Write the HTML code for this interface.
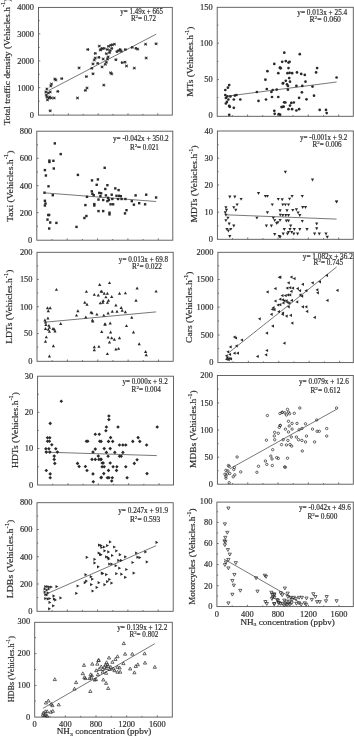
<!DOCTYPE html>
<html><head><meta charset="utf-8"><style>
html,body{margin:0;padding:0;background:#fff;}
body{width:354px;height:737px;overflow:hidden;}
svg{display:block;filter:grayscale(1) blur(0.3px);}
text{font-family:"Liberation Serif", serif;fill:#2a2a2a;stroke:#333;stroke-width:0.18px;}
</style></head><body>
<svg width="354" height="737" viewBox="0 0 354 737">
<rect width="354" height="737" fill="#fff"/>
<g>
<rect x="38.5" y="7.4" width="133.8" height="107.7" fill="none" stroke="#555" stroke-width="0.9"/>
<path d="M38.5 20.65h1.2M38.5 33.9h1.8M38.5 47.4h1.2M38.5 60.9h1.8M38.5 74.3h1.2M38.5 87.7h1.8M38.5 101.2h1.2M53.41 115.1v-1.2M68.33 115.1v-1.8M83.24 115.1v-1.2M98.15 115.1v-1.8M113.06 115.1v-1.2M127.98 115.1v-1.8M142.89 115.1v-1.2M157.8 115.1v-1.8" stroke="#555" stroke-width="0.8" fill="none"/>
<text x="34" y="10.2" text-anchor="end" font-size="8.2" textLength="16.8" lengthAdjust="spacingAndGlyphs">4000</text>
<text x="34" y="36.7" text-anchor="end" font-size="8.2" textLength="16.8" lengthAdjust="spacingAndGlyphs">3000</text>
<text x="34" y="63.7" text-anchor="end" font-size="8.2" textLength="16.8" lengthAdjust="spacingAndGlyphs">2000</text>
<text x="34" y="90.5" text-anchor="end" font-size="8.2" textLength="16.8" lengthAdjust="spacingAndGlyphs">1000</text>
<text x="34" y="117.5" text-anchor="end" font-size="8.2" textLength="4.2" lengthAdjust="spacingAndGlyphs">0</text>
<text transform="translate(9.8 125.3) rotate(-90)" font-size="8" textLength="126.8" lengthAdjust="spacingAndGlyphs">Total traffic density (Vehicles.h<tspan font-size="5.5" dy="-4.4">-1</tspan><tspan dy="4.4">)</tspan></text>
<text x="120.3" y="13.6" font-size="7.2" textLength="42.7" lengthAdjust="spacingAndGlyphs">y= 1.49x + 665</text>
<text x="130.9" y="21.1" font-size="7.2" textLength="25.1" lengthAdjust="spacingAndGlyphs">R<tspan font-size="5" dy="-3">2</tspan><tspan dy="3">= 0.72</tspan></text>
<line x1="48.9" y1="90.4" x2="156.1" y2="34.2" stroke="#555" stroke-width="0.8"/>
<path d="M48.7 110.8H51.7M49.3 109.45L51.1 112.15M51.1 109.45L49.3 112.15" stroke="#2a2a2a" stroke-width="0.95" fill="none"/>
<path d="M45.4 89H48.4M46 87.65L47.8 90.35M47.8 87.65L46 90.35" stroke="#2a2a2a" stroke-width="0.95" fill="none"/>
<path d="M44.4 92H47.4M45 90.65L46.8 93.35M46.8 90.65L45 93.35" stroke="#2a2a2a" stroke-width="0.95" fill="none"/>
<path d="M44.8 95H47.8M45.4 93.65L47.2 96.35M47.2 93.65L45.4 96.35" stroke="#2a2a2a" stroke-width="0.95" fill="none"/>
<path d="M45.4 97H48.4M46 95.65L47.8 98.35M47.8 95.65L46 98.35" stroke="#2a2a2a" stroke-width="0.95" fill="none"/>
<path d="M46 99.9H49M46.6 98.55L48.4 101.25M48.4 98.55L46.6 101.25" stroke="#2a2a2a" stroke-width="0.95" fill="none"/>
<path d="M47.4 98H50.4M48 96.65L49.8 99.35M49.8 96.65L48 99.35" stroke="#2a2a2a" stroke-width="0.95" fill="none"/>
<path d="M48.3 97H51.3M48.9 95.65L50.7 98.35M50.7 95.65L48.9 98.35" stroke="#2a2a2a" stroke-width="0.95" fill="none"/>
<path d="M49.9 98H52.9M50.5 96.65L52.3 99.35M52.3 96.65L50.5 99.35" stroke="#2a2a2a" stroke-width="0.95" fill="none"/>
<path d="M52.7 98H55.7M53.3 96.65L55.1 99.35M55.1 96.65L53.3 99.35" stroke="#2a2a2a" stroke-width="0.95" fill="none"/>
<path d="M46.8 93H49.8M47.4 91.65L49.2 94.35M49.2 91.65L47.4 94.35" stroke="#2a2a2a" stroke-width="0.95" fill="none"/>
<path d="M48.7 92H51.7M49.3 90.65L51.1 93.35M51.1 90.65L49.3 93.35" stroke="#2a2a2a" stroke-width="0.95" fill="none"/>
<path d="M49.3 86H52.3M49.9 84.65L51.7 87.35M51.7 84.65L49.9 87.35" stroke="#2a2a2a" stroke-width="0.95" fill="none"/>
<path d="M49.9 84H52.9M50.5 82.65L52.3 85.35M52.3 82.65L50.5 85.35" stroke="#2a2a2a" stroke-width="0.95" fill="none"/>
<path d="M53.3 79H56.3M53.9 77.65L55.7 80.35M55.7 77.65L53.9 80.35" stroke="#2a2a2a" stroke-width="0.95" fill="none"/>
<path d="M54.3 80H57.3M54.9 78.65L56.7 81.35M56.7 78.65L54.9 81.35" stroke="#2a2a2a" stroke-width="0.95" fill="none"/>
<path d="M60.2 78.6H63.2M60.8 77.25L62.6 79.95M62.6 77.25L60.8 79.95" stroke="#2a2a2a" stroke-width="0.95" fill="none"/>
<path d="M56.3 91.4H59.3M56.9 90.05L58.7 92.75M58.7 90.05L56.9 92.75" stroke="#2a2a2a" stroke-width="0.95" fill="none"/>
<path d="M76 98H79M76.6 96.65L78.4 99.35M78.4 96.65L76.6 99.35" stroke="#2a2a2a" stroke-width="0.95" fill="none"/>
<path d="M77.6 67.9H80.6M78.2 66.55L80 69.25M80 66.55L78.2 69.25" stroke="#2a2a2a" stroke-width="0.95" fill="none"/>
<path d="M83.9 90.4H86.9M84.5 89.05L86.3 91.75M86.3 89.05L84.5 91.75" stroke="#2a2a2a" stroke-width="0.95" fill="none"/>
<path d="M85.5 88H88.5M86.1 86.65L87.9 89.35M87.9 86.65L86.1 89.35" stroke="#2a2a2a" stroke-width="0.95" fill="none"/>
<path d="M84.9 76.6H87.9M85.5 75.25L87.3 77.95M87.3 75.25L85.5 77.95" stroke="#2a2a2a" stroke-width="0.95" fill="none"/>
<path d="M86.3 49.5H89.3M86.9 48.15L88.7 50.85M88.7 48.15L86.9 50.85" stroke="#2a2a2a" stroke-width="0.95" fill="none"/>
<path d="M90.3 68.3H93.3M90.9 66.95L92.7 69.65M92.7 66.95L90.9 69.65" stroke="#2a2a2a" stroke-width="0.95" fill="none"/>
<path d="M91.5 73.8H94.5M92.1 72.45L93.9 75.15M93.9 72.45L92.1 75.15" stroke="#2a2a2a" stroke-width="0.95" fill="none"/>
<path d="M91.5 63.9H94.5M92.1 62.55L93.9 65.25M93.9 62.55L92.1 65.25" stroke="#2a2a2a" stroke-width="0.95" fill="none"/>
<path d="M92.8 60H95.8M93.4 58.65L95.2 61.35M95.2 58.65L93.4 61.35" stroke="#2a2a2a" stroke-width="0.95" fill="none"/>
<path d="M93.8 53.4H96.8M94.4 52.05L96.2 54.75M96.2 52.05L94.4 54.75" stroke="#2a2a2a" stroke-width="0.95" fill="none"/>
<path d="M93.8 58H96.8M94.4 56.65L96.2 59.35M96.2 56.65L94.4 59.35" stroke="#2a2a2a" stroke-width="0.95" fill="none"/>
<path d="M96.2 63.3H99.2M96.8 61.95L98.6 64.65M98.6 61.95L96.8 64.65" stroke="#2a2a2a" stroke-width="0.95" fill="none"/>
<path d="M97.4 57.4H100.4M98 56.05L99.8 58.75M99.8 56.05L98 58.75" stroke="#2a2a2a" stroke-width="0.95" fill="none"/>
<path d="M97.8 46.1H100.8M98.4 44.75L100.2 47.45M100.2 44.75L98.4 47.45" stroke="#2a2a2a" stroke-width="0.95" fill="none"/>
<path d="M102.3 85.1H105.3M102.9 83.75L104.7 86.45M104.7 83.75L102.9 86.45" stroke="#2a2a2a" stroke-width="0.95" fill="none"/>
<path d="M100.6 66.9H103.6M101.2 65.55L103 68.25M103 65.55L101.2 68.25" stroke="#2a2a2a" stroke-width="0.95" fill="none"/>
<path d="M103.8 64.3H106.8M104.4 62.95L106.2 65.65M106.2 62.95L104.4 65.65" stroke="#2a2a2a" stroke-width="0.95" fill="none"/>
<path d="M104.9 62.2H107.9M105.5 60.85L107.3 63.55M107.3 60.85L105.5 63.55" stroke="#2a2a2a" stroke-width="0.95" fill="none"/>
<path d="M105.9 59H108.9M106.5 57.65L108.3 60.35M108.3 57.65L106.5 60.35" stroke="#2a2a2a" stroke-width="0.95" fill="none"/>
<path d="M106.6 56.9H109.6M107.2 55.55L109 58.25M109 55.55L107.2 58.25" stroke="#2a2a2a" stroke-width="0.95" fill="none"/>
<path d="M101.7 59H104.7M102.3 57.65L104.1 60.35M104.1 57.65L102.3 60.35" stroke="#2a2a2a" stroke-width="0.95" fill="none"/>
<path d="M104.9 53.7H107.9M105.5 52.35L107.3 55.05M107.3 52.35L105.5 55.05" stroke="#2a2a2a" stroke-width="0.95" fill="none"/>
<path d="M108 52.7H111M108.6 51.35L110.4 54.05M110.4 51.35L108.6 54.05" stroke="#2a2a2a" stroke-width="0.95" fill="none"/>
<path d="M99.5 49.5H102.5M100.1 48.15L101.9 50.85M101.9 48.15L100.1 50.85" stroke="#2a2a2a" stroke-width="0.95" fill="none"/>
<path d="M102.7 48.4H105.7M103.3 47.05L105.1 49.75M105.1 47.05L103.3 49.75" stroke="#2a2a2a" stroke-width="0.95" fill="none"/>
<path d="M105.9 49.5H108.9M106.5 48.15L108.3 50.85M108.3 48.15L106.5 50.85" stroke="#2a2a2a" stroke-width="0.95" fill="none"/>
<path d="M107 46.3H110M107.6 44.95L109.4 47.65M109.4 44.95L107.6 47.65" stroke="#2a2a2a" stroke-width="0.95" fill="none"/>
<path d="M109.1 45.3H112.1M109.7 43.95L111.5 46.65M111.5 43.95L109.7 46.65" stroke="#2a2a2a" stroke-width="0.95" fill="none"/>
<path d="M110.8 44.8H113.8M111.4 43.45L113.2 46.15M113.2 43.45L111.4 46.15" stroke="#2a2a2a" stroke-width="0.95" fill="none"/>
<path d="M112.9 44.2H115.9M113.5 42.85L115.3 45.55M115.3 42.85L113.5 45.55" stroke="#2a2a2a" stroke-width="0.95" fill="none"/>
<path d="M108.7 50.6H111.7M109.3 49.25L111.1 51.95M111.1 49.25L109.3 51.95" stroke="#2a2a2a" stroke-width="0.95" fill="none"/>
<path d="M110.2 48.4H113.2M110.8 47.05L112.6 49.75M112.6 47.05L110.8 49.75" stroke="#2a2a2a" stroke-width="0.95" fill="none"/>
<path d="M109.1 72.8H112.1M109.7 71.45L111.5 74.15M111.5 71.45L109.7 74.15" stroke="#2a2a2a" stroke-width="0.95" fill="none"/>
<path d="M110.2 73.9H113.2M110.8 72.55L112.6 75.25M112.6 72.55L110.8 75.25" stroke="#2a2a2a" stroke-width="0.95" fill="none"/>
<path d="M114.4 59.7H117.4M115 58.35L116.8 61.05M116.8 58.35L115 61.05" stroke="#2a2a2a" stroke-width="0.95" fill="none"/>
<path d="M115.5 51.6H118.5M116.1 50.25L117.9 52.95M117.9 50.25L116.1 52.95" stroke="#2a2a2a" stroke-width="0.95" fill="none"/>
<path d="M117.1 50.6H120.1M117.7 49.25L119.5 51.95M119.5 49.25L117.7 51.95" stroke="#2a2a2a" stroke-width="0.95" fill="none"/>
<path d="M118.6 49.5H121.6M119.2 48.15L121 50.85M121 48.15L119.2 50.85" stroke="#2a2a2a" stroke-width="0.95" fill="none"/>
<path d="M119.7 51.2H122.7M120.3 49.85L122.1 52.55M122.1 49.85L120.3 52.55" stroke="#2a2a2a" stroke-width="0.95" fill="none"/>
<path d="M120.7 62.6H123.7M121.3 61.25L123.1 63.95M123.1 61.25L121.3 63.95" stroke="#2a2a2a" stroke-width="0.95" fill="none"/>
<path d="M123.5 62.2H126.5M124.1 60.85L125.9 63.55M125.9 60.85L124.1 63.55" stroke="#2a2a2a" stroke-width="0.95" fill="none"/>
<path d="M125 66H128M125.6 64.65L127.4 67.35M127.4 64.65L125.6 67.35" stroke="#2a2a2a" stroke-width="0.95" fill="none"/>
<path d="M123.9 49.5H126.9M124.5 48.15L126.3 50.85M126.3 48.15L124.5 50.85" stroke="#2a2a2a" stroke-width="0.95" fill="none"/>
<path d="M130.7 47.4H133.7M131.3 46.05L133.1 48.75M133.1 46.05L131.3 48.75" stroke="#2a2a2a" stroke-width="0.95" fill="none"/>
<path d="M132.8 68.1H135.8M133.4 66.75L135.2 69.45M135.2 66.75L133.4 69.45" stroke="#2a2a2a" stroke-width="0.95" fill="none"/>
<path d="M134.5 48.4H137.5M135.1 47.05L136.9 49.75M136.9 47.05L135.1 49.75" stroke="#2a2a2a" stroke-width="0.95" fill="none"/>
<path d="M136.2 49.1H139.2M136.8 47.75L138.6 50.45M138.6 47.75L136.8 50.45" stroke="#2a2a2a" stroke-width="0.95" fill="none"/>
<path d="M144.1 44.2H147.1M144.7 42.85L146.5 45.55M146.5 42.85L144.7 45.55" stroke="#2a2a2a" stroke-width="0.95" fill="none"/>
<path d="M144.7 58H147.7M145.3 56.65L147.1 59.35M147.1 56.65L145.3 59.35" stroke="#2a2a2a" stroke-width="0.95" fill="none"/>
<path d="M154.6 43.8H157.6M155.2 42.45L157 45.15M157 42.45L155.2 45.15" stroke="#2a2a2a" stroke-width="0.95" fill="none"/>
<path d="M98.8 50H101.8M99.4 48.65L101.2 51.35M101.2 48.65L99.4 51.35" stroke="#2a2a2a" stroke-width="0.95" fill="none"/>
<path d="M100.7 48.5H103.7M101.3 47.15L103.1 49.85M103.1 47.15L101.3 49.85" stroke="#2a2a2a" stroke-width="0.95" fill="none"/>
<rect x="36.8" y="131.2" width="136" height="109" fill="none" stroke="#555" stroke-width="0.9"/>
<path d="M36.8 144.75h1.2M36.8 158.3h1.8M36.8 172h1.2M36.8 185.7h1.8M36.8 199.2h1.2M36.8 212.7h1.8M36.8 226.25h1.2M51.99 240.2v-1.2M67.17 240.2v-1.8M82.36 240.2v-1.2M97.55 240.2v-1.8M112.74 240.2v-1.2M127.93 240.2v-1.8M143.11 240.2v-1.2M158.3 240.2v-1.8" stroke="#555" stroke-width="0.8" fill="none"/>
<text x="32.3" y="134" text-anchor="end" font-size="8.2" textLength="12.6" lengthAdjust="spacingAndGlyphs">800</text>
<text x="32.3" y="161.1" text-anchor="end" font-size="8.2" textLength="12.6" lengthAdjust="spacingAndGlyphs">600</text>
<text x="32.3" y="188.5" text-anchor="end" font-size="8.2" textLength="12.6" lengthAdjust="spacingAndGlyphs">400</text>
<text x="32.3" y="215.5" text-anchor="end" font-size="8.2" textLength="12.6" lengthAdjust="spacingAndGlyphs">200</text>
<text x="32.3" y="242.6" text-anchor="end" font-size="8.2" textLength="4.2" lengthAdjust="spacingAndGlyphs">0</text>
<text transform="translate(12.6 221.9) rotate(-90)" font-size="8" textLength="71.3" lengthAdjust="spacingAndGlyphs">Taxi (Vehicles.h<tspan font-size="5.5" dy="-4.4">-1</tspan><tspan dy="4.4">)</tspan></text>
<text x="112.9" y="141.2" font-size="7.2" textLength="55.8" lengthAdjust="spacingAndGlyphs">y= -0.042x + 350.2</text>
<text x="129.9" y="150.3" font-size="7.2" textLength="28.9" lengthAdjust="spacingAndGlyphs">R<tspan font-size="5" dy="-3">2</tspan><tspan dy="3">= 0.021</tspan></text>
<line x1="44.9" y1="192.9" x2="156.1" y2="201.5" stroke="#555" stroke-width="0.8"/>
<rect x="53.6" y="142.2" width="2.4" height="2.4" fill="#2a2a2a"/>
<rect x="59.5" y="152.9" width="2.4" height="2.4" fill="#2a2a2a"/>
<rect x="48.2" y="159.4" width="2.4" height="2.4" fill="#2a2a2a"/>
<rect x="48.2" y="160.8" width="2.4" height="2.4" fill="#2a2a2a"/>
<rect x="52.2" y="159.6" width="2.4" height="2.4" fill="#2a2a2a"/>
<rect x="52.6" y="167.3" width="2.4" height="2.4" fill="#2a2a2a"/>
<rect x="43.7" y="168.9" width="2.4" height="2.4" fill="#2a2a2a"/>
<rect x="44.7" y="174.3" width="2.4" height="2.4" fill="#2a2a2a"/>
<rect x="47.3" y="185.1" width="2.4" height="2.4" fill="#2a2a2a"/>
<rect x="43.3" y="191.5" width="2.4" height="2.4" fill="#2a2a2a"/>
<rect x="51.6" y="194" width="2.4" height="2.4" fill="#2a2a2a"/>
<rect x="43.7" y="199.6" width="2.4" height="2.4" fill="#2a2a2a"/>
<rect x="44.3" y="202.3" width="2.4" height="2.4" fill="#2a2a2a"/>
<rect x="43.7" y="204.3" width="2.4" height="2.4" fill="#2a2a2a"/>
<rect x="47.1" y="213.8" width="2.4" height="2.4" fill="#2a2a2a"/>
<rect x="47.9" y="213.8" width="2.4" height="2.4" fill="#2a2a2a"/>
<rect x="46.3" y="218.4" width="2.4" height="2.4" fill="#2a2a2a"/>
<rect x="49" y="221.3" width="2.4" height="2.4" fill="#2a2a2a"/>
<rect x="55.2" y="221.7" width="2.4" height="2.4" fill="#2a2a2a"/>
<rect x="48" y="227.3" width="2.4" height="2.4" fill="#2a2a2a"/>
<rect x="75.3" y="225.7" width="2.4" height="2.4" fill="#2a2a2a"/>
<rect x="76.7" y="173.7" width="2.4" height="2.4" fill="#2a2a2a"/>
<rect x="84.2" y="203.9" width="2.4" height="2.4" fill="#2a2a2a"/>
<rect x="85.2" y="214.8" width="2.4" height="2.4" fill="#2a2a2a"/>
<rect x="83.2" y="216.8" width="2.4" height="2.4" fill="#2a2a2a"/>
<rect x="85.8" y="195.6" width="2.4" height="2.4" fill="#2a2a2a"/>
<rect x="90.8" y="179.2" width="2.4" height="2.4" fill="#2a2a2a"/>
<rect x="90.6" y="190.1" width="2.4" height="2.4" fill="#2a2a2a"/>
<rect x="91.2" y="192.6" width="2.4" height="2.4" fill="#2a2a2a"/>
<rect x="92.5" y="194" width="2.4" height="2.4" fill="#2a2a2a"/>
<rect x="93.1" y="202.9" width="2.4" height="2.4" fill="#2a2a2a"/>
<rect x="93.1" y="204.3" width="2.4" height="2.4" fill="#2a2a2a"/>
<rect x="95.5" y="183.6" width="2.4" height="2.4" fill="#2a2a2a"/>
<rect x="96.7" y="178.2" width="2.4" height="2.4" fill="#2a2a2a"/>
<rect x="98.1" y="191.7" width="2.4" height="2.4" fill="#2a2a2a"/>
<rect x="97.3" y="198.4" width="2.4" height="2.4" fill="#2a2a2a"/>
<rect x="97.3" y="209.9" width="2.4" height="2.4" fill="#2a2a2a"/>
<rect x="103.5" y="166.6" width="2.4" height="2.4" fill="#2a2a2a"/>
<rect x="106.2" y="184" width="2.4" height="2.4" fill="#2a2a2a"/>
<rect x="104.1" y="187.8" width="2.4" height="2.4" fill="#2a2a2a"/>
<rect x="99.9" y="192.1" width="2.4" height="2.4" fill="#2a2a2a"/>
<rect x="99.2" y="195" width="2.4" height="2.4" fill="#2a2a2a"/>
<rect x="102" y="198.8" width="2.4" height="2.4" fill="#2a2a2a"/>
<rect x="104.7" y="194.2" width="2.4" height="2.4" fill="#2a2a2a"/>
<rect x="106.9" y="196.7" width="2.4" height="2.4" fill="#2a2a2a"/>
<rect x="107.7" y="198.8" width="2.4" height="2.4" fill="#2a2a2a"/>
<rect x="106.2" y="199.9" width="2.4" height="2.4" fill="#2a2a2a"/>
<rect x="110.5" y="193.5" width="2.4" height="2.4" fill="#2a2a2a"/>
<rect x="111.1" y="197.8" width="2.4" height="2.4" fill="#2a2a2a"/>
<rect x="109.4" y="203.1" width="2.4" height="2.4" fill="#2a2a2a"/>
<rect x="111.9" y="203.1" width="2.4" height="2.4" fill="#2a2a2a"/>
<rect x="114.1" y="187.2" width="2.4" height="2.4" fill="#2a2a2a"/>
<rect x="115.3" y="194.6" width="2.4" height="2.4" fill="#2a2a2a"/>
<rect x="117.4" y="188.9" width="2.4" height="2.4" fill="#2a2a2a"/>
<rect x="117.9" y="194.6" width="2.4" height="2.4" fill="#2a2a2a"/>
<rect x="119.6" y="195" width="2.4" height="2.4" fill="#2a2a2a"/>
<rect x="116.8" y="197.8" width="2.4" height="2.4" fill="#2a2a2a"/>
<rect x="120.4" y="197.8" width="2.4" height="2.4" fill="#2a2a2a"/>
<rect x="124.2" y="197.8" width="2.4" height="2.4" fill="#2a2a2a"/>
<rect x="102" y="209.9" width="2.4" height="2.4" fill="#2a2a2a"/>
<rect x="108.3" y="211.5" width="2.4" height="2.4" fill="#2a2a2a"/>
<rect x="108.3" y="213.2" width="2.4" height="2.4" fill="#2a2a2a"/>
<rect x="123.8" y="212.2" width="2.4" height="2.4" fill="#2a2a2a"/>
<rect x="125.3" y="209" width="2.4" height="2.4" fill="#2a2a2a"/>
<rect x="130.6" y="199.9" width="2.4" height="2.4" fill="#2a2a2a"/>
<rect x="132.7" y="203.5" width="2.4" height="2.4" fill="#2a2a2a"/>
<rect x="134.4" y="194.2" width="2.4" height="2.4" fill="#2a2a2a"/>
<rect x="138" y="202" width="2.4" height="2.4" fill="#2a2a2a"/>
<rect x="143.9" y="203.1" width="2.4" height="2.4" fill="#2a2a2a"/>
<rect x="145" y="193.5" width="2.4" height="2.4" fill="#2a2a2a"/>
<rect x="154.9" y="196.3" width="2.4" height="2.4" fill="#2a2a2a"/>
<rect x="37" y="252.3" width="136.2" height="109" fill="none" stroke="#555" stroke-width="0.9"/>
<path d="M37 265.9h1.2M37 279.4h1.8M37 293.05h1.2M37 306.7h1.8M37 320.15h1.2M37 333.6h1.8M37 347.15h1.2M52.19 361.3v-1.2M67.38 361.3v-1.8M82.56 361.3v-1.2M97.75 361.3v-1.8M112.94 361.3v-1.2M128.12 361.3v-1.8M143.31 361.3v-1.2M158.5 361.3v-1.8" stroke="#555" stroke-width="0.8" fill="none"/>
<text x="32.5" y="255.2" text-anchor="end" font-size="8.2" textLength="12.6" lengthAdjust="spacingAndGlyphs">200</text>
<text x="32.5" y="282.2" text-anchor="end" font-size="8.2" textLength="12.6" lengthAdjust="spacingAndGlyphs">150</text>
<text x="32.5" y="309.5" text-anchor="end" font-size="8.2" textLength="12.6" lengthAdjust="spacingAndGlyphs">100</text>
<text x="32.5" y="336.4" text-anchor="end" font-size="8.2" textLength="8.4" lengthAdjust="spacingAndGlyphs">50</text>
<text x="32.5" y="363.5" text-anchor="end" font-size="8.2" textLength="4.2" lengthAdjust="spacingAndGlyphs">0</text>
<text transform="translate(12.4 343.8) rotate(-90)" font-size="8" textLength="74.1" lengthAdjust="spacingAndGlyphs">LDTs (Vehicles.h<tspan font-size="5.5" dy="-4.4">-1</tspan><tspan dy="4.4">)</tspan></text>
<text x="118.8" y="261.6" font-size="7.2" textLength="49.3" lengthAdjust="spacingAndGlyphs">y= 0.013x + 69.8</text>
<text x="132" y="269.1" font-size="7.2" textLength="29.8" lengthAdjust="spacingAndGlyphs">R<tspan font-size="5" dy="-3">2</tspan><tspan dy="3">= 0.022</tspan></text>
<line x1="44.9" y1="322.2" x2="156.1" y2="311.9" stroke="#555" stroke-width="0.8"/>
<path d="M56.4 287.9L58 290.78L54.8 290.78Z" fill="#2a2a2a"/>
<path d="M47.5 306.3L49.1 309.18L45.9 309.18Z" fill="#2a2a2a"/>
<path d="M50.2 306.3L51.8 309.18L48.6 309.18Z" fill="#2a2a2a"/>
<path d="M48.3 309.3L49.9 312.18L46.7 312.18Z" fill="#2a2a2a"/>
<path d="M47.9 316.6L49.5 319.48L46.3 319.48Z" fill="#2a2a2a"/>
<path d="M44.9 318.6L46.5 321.48L43.3 321.48Z" fill="#2a2a2a"/>
<path d="M45.5 320.6L47.1 323.48L43.9 323.48Z" fill="#2a2a2a"/>
<path d="M45.9 323.1L47.5 325.98L44.3 325.98Z" fill="#2a2a2a"/>
<path d="M48.9 323.9L50.5 326.78L47.3 326.78Z" fill="#2a2a2a"/>
<path d="M49.4 325.9L51 328.78L47.8 328.78Z" fill="#2a2a2a"/>
<path d="M45.5 327.1L47.1 329.98L43.9 329.98Z" fill="#2a2a2a"/>
<path d="M48.3 327.9L49.9 330.78L46.7 330.78Z" fill="#2a2a2a"/>
<path d="M53 327.1L54.6 329.98L51.4 329.98Z" fill="#2a2a2a"/>
<path d="M54.2 327.5L55.8 330.38L52.6 330.38Z" fill="#2a2a2a"/>
<path d="M55 329.5L56.6 332.38L53.4 332.38Z" fill="#2a2a2a"/>
<path d="M49.4 329.9L51 332.78L47.8 332.78Z" fill="#2a2a2a"/>
<path d="M60.7 322L62.3 324.88L59.1 324.88Z" fill="#2a2a2a"/>
<path d="M46.3 335.4L47.9 338.28L44.7 338.28Z" fill="#2a2a2a"/>
<path d="M45.5 339.8L47.1 342.68L43.9 342.68Z" fill="#2a2a2a"/>
<path d="M53.4 344.3L55 347.18L51.8 347.18Z" fill="#2a2a2a"/>
<path d="M49.4 354.6L51 357.48L47.8 357.48Z" fill="#2a2a2a"/>
<path d="M77.9 309.3L79.5 312.18L76.3 312.18Z" fill="#2a2a2a"/>
<path d="M76.5 313.7L78.1 316.58L74.9 316.58Z" fill="#2a2a2a"/>
<path d="M86.4 289.9L88 292.78L84.8 292.78Z" fill="#2a2a2a"/>
<path d="M84.8 300.8L86.4 303.68L83.2 303.68Z" fill="#2a2a2a"/>
<path d="M87 302.8L88.6 305.68L85.4 305.68Z" fill="#2a2a2a"/>
<path d="M85.8 315.6L87.4 318.48L84.2 318.48Z" fill="#2a2a2a"/>
<path d="M91 310.7L92.6 313.58L89.4 313.58Z" fill="#2a2a2a"/>
<path d="M92 311.3L93.6 314.18L90.4 314.18Z" fill="#2a2a2a"/>
<path d="M92.4 318.6L94 321.48L90.8 321.48Z" fill="#2a2a2a"/>
<path d="M92.8 319.6L94.4 322.48L91.2 322.48Z" fill="#2a2a2a"/>
<path d="M94.3 292.9L95.9 295.78L92.7 295.78Z" fill="#2a2a2a"/>
<path d="M94.3 345.3L95.9 348.18L92.7 348.18Z" fill="#2a2a2a"/>
<path d="M94.3 348.3L95.9 351.18L92.7 351.18Z" fill="#2a2a2a"/>
<path d="M96.9 312.7L98.5 315.58L95.3 315.58Z" fill="#2a2a2a"/>
<path d="M98.3 293.5L99.9 296.38L96.7 296.38Z" fill="#2a2a2a"/>
<path d="M98.9 344.9L100.5 347.78L97.3 347.78Z" fill="#2a2a2a"/>
<path d="M99.7 283L101.3 285.88L98.1 285.88Z" fill="#2a2a2a"/>
<path d="M109.5 281.2L111.1 284.08L107.9 284.08Z" fill="#2a2a2a"/>
<path d="M101.1 289.7L102.7 292.58L99.5 292.58Z" fill="#2a2a2a"/>
<path d="M104.2 291.8L105.8 294.68L102.6 294.68Z" fill="#2a2a2a"/>
<path d="M107.4 291.8L109 294.68L105.8 294.68Z" fill="#2a2a2a"/>
<path d="M105.9 295.4L107.5 298.28L104.3 298.28Z" fill="#2a2a2a"/>
<path d="M111.7 295L113.3 297.88L110.1 297.88Z" fill="#2a2a2a"/>
<path d="M108.5 298.8L110.1 301.68L106.9 301.68Z" fill="#2a2a2a"/>
<path d="M107.4 300.9L109 303.78L105.8 303.78Z" fill="#2a2a2a"/>
<path d="M103.2 299.2L104.8 302.08L101.6 302.08Z" fill="#2a2a2a"/>
<path d="M119.5 291.8L121.1 294.68L117.9 294.68Z" fill="#2a2a2a"/>
<path d="M125.4 291.4L127 294.28L123.8 294.28Z" fill="#2a2a2a"/>
<path d="M137.1 286.5L138.7 289.38L135.5 289.38Z" fill="#2a2a2a"/>
<path d="M156.1 289.7L157.7 292.58L154.5 292.58Z" fill="#2a2a2a"/>
<path d="M136 298.8L137.6 301.68L134.4 301.68Z" fill="#2a2a2a"/>
<path d="M115.9 303.5L117.5 306.38L114.3 306.38Z" fill="#2a2a2a"/>
<path d="M121.2 306L122.8 308.88L119.6 308.88Z" fill="#2a2a2a"/>
<path d="M122.2 308.8L123.8 311.68L120.6 311.68Z" fill="#2a2a2a"/>
<path d="M117 309.8L118.6 312.68L115.4 312.68Z" fill="#2a2a2a"/>
<path d="M112.3 309.8L113.9 312.68L110.7 312.68Z" fill="#2a2a2a"/>
<path d="M108.1 311.5L109.7 314.38L106.5 314.38Z" fill="#2a2a2a"/>
<path d="M103.8 313.7L105.4 316.58L102.2 316.58Z" fill="#2a2a2a"/>
<path d="M125.4 310.3L127 313.18L123.8 313.18Z" fill="#2a2a2a"/>
<path d="M131.8 315.8L133.4 318.68L130.2 318.68Z" fill="#2a2a2a"/>
<path d="M110.2 321.5L111.8 324.38L108.6 324.38Z" fill="#2a2a2a"/>
<path d="M105.3 322.6L106.9 325.48L103.7 325.48Z" fill="#2a2a2a"/>
<path d="M126.5 324.2L128.1 327.08L124.9 327.08Z" fill="#2a2a2a"/>
<path d="M101.7 330L103.3 332.88L100.1 332.88Z" fill="#2a2a2a"/>
<path d="M110.6 330.6L112.2 333.48L109 333.48Z" fill="#2a2a2a"/>
<path d="M133.5 330.6L135.1 333.48L131.9 333.48Z" fill="#2a2a2a"/>
<path d="M108.1 335.7L109.7 338.58L106.5 338.58Z" fill="#2a2a2a"/>
<path d="M111.7 336.3L113.3 339.18L110.1 339.18Z" fill="#2a2a2a"/>
<path d="M114.4 337.8L116 340.68L112.8 340.68Z" fill="#2a2a2a"/>
<path d="M119.5 336.3L121.1 339.18L117.9 339.18Z" fill="#2a2a2a"/>
<path d="M109.5 340.6L111.1 343.48L107.9 343.48Z" fill="#2a2a2a"/>
<path d="M139.2 342.3L140.8 345.18L137.6 345.18Z" fill="#2a2a2a"/>
<path d="M115.9 347.6L117.5 350.48L114.3 350.48Z" fill="#2a2a2a"/>
<path d="M118.6 346.9L120.2 349.78L117 349.78Z" fill="#2a2a2a"/>
<path d="M107.4 352.2L109 355.08L105.8 355.08Z" fill="#2a2a2a"/>
<path d="M145.6 350.1L147.2 352.98L144 352.98Z" fill="#2a2a2a"/>
<path d="M146.2 353.3L147.8 356.18L144.6 356.18Z" fill="#2a2a2a"/>
<path d="M101.8 289.9L103.4 292.78L100.2 292.78Z" fill="#2a2a2a"/>
<path d="M100.3 301.4L101.9 304.28L98.7 304.28Z" fill="#2a2a2a"/>
<path d="M102.8 300.8L104.4 303.68L101.2 303.68Z" fill="#2a2a2a"/>
<path d="M104.8 322.6L106.4 325.48L103.2 325.48Z" fill="#2a2a2a"/>
<rect x="37.6" y="376.2" width="135.9" height="108.8" fill="none" stroke="#555" stroke-width="0.9"/>
<path d="M37.6 394.25h1.2M37.6 412.3h1.8M37.6 430.4h1.2M37.6 448.5h1.8M37.6 466.75h1.2M52.78 485v-1.2M67.95 485v-1.8M83.12 485v-1.2M98.3 485v-1.8M113.47 485v-1.2M128.65 485v-1.8M143.83 485v-1.2M159 485v-1.8" stroke="#555" stroke-width="0.8" fill="none"/>
<text x="33.1" y="379" text-anchor="end" font-size="8.2" textLength="8.4" lengthAdjust="spacingAndGlyphs">30</text>
<text x="33.1" y="415.1" text-anchor="end" font-size="8.2" textLength="8.4" lengthAdjust="spacingAndGlyphs">20</text>
<text x="33.1" y="451.3" text-anchor="end" font-size="8.2" textLength="8.4" lengthAdjust="spacingAndGlyphs">10</text>
<text x="33.1" y="487.8" text-anchor="end" font-size="8.2" textLength="4.2" lengthAdjust="spacingAndGlyphs">0</text>
<text transform="translate(17.8 467.9) rotate(-90)" font-size="8" textLength="75.9" lengthAdjust="spacingAndGlyphs">HDTs (Vehicles.h<tspan font-size="5.5" dy="-4.4">-1</tspan><tspan dy="4.4">)</tspan></text>
<text x="122.4" y="384.3" font-size="7.2" textLength="45.3" lengthAdjust="spacingAndGlyphs">y= 0.000x + 9.2</text>
<text x="131.6" y="392.2" font-size="7.2" textLength="29.3" lengthAdjust="spacingAndGlyphs">R<tspan font-size="5" dy="-3">2</tspan><tspan dy="3">= 0.004</tspan></text>
<line x1="44.9" y1="452.1" x2="156.8" y2="455.6" stroke="#555" stroke-width="0.8"/>
<path d="M61.3 399.5L63.1 401.3L61.3 403.1L59.5 401.3Z" fill="#2a2a2a"/>
<path d="M50.2 421.6L52 423.4L50.2 425.2L48.4 423.4Z" fill="#2a2a2a"/>
<path d="M47.5 435.9L49.3 437.7L47.5 439.5L45.7 437.7Z" fill="#2a2a2a"/>
<path d="M49.8 435.9L51.6 437.7L49.8 439.5L48 437.7Z" fill="#2a2a2a"/>
<path d="M47.5 439.4L49.3 441.2L47.5 443L45.7 441.2Z" fill="#2a2a2a"/>
<path d="M49.4 439.4L51.2 441.2L49.4 443L47.6 441.2Z" fill="#2a2a2a"/>
<path d="M51.8 443L53.6 444.8L51.8 446.6L50 444.8Z" fill="#2a2a2a"/>
<path d="M45.9 446.9L47.7 448.7L45.9 450.5L44.1 448.7Z" fill="#2a2a2a"/>
<path d="M48.9 446.9L50.7 448.7L48.9 450.5L47.1 448.7Z" fill="#2a2a2a"/>
<path d="M55.8 446.9L57.6 448.7L55.8 450.5L54 448.7Z" fill="#2a2a2a"/>
<path d="M46.3 450.3L48.1 452.1L46.3 453.9L44.5 452.1Z" fill="#2a2a2a"/>
<path d="M49.8 450.3L51.6 452.1L49.8 453.9L48 452.1Z" fill="#2a2a2a"/>
<path d="M54.2 454.3L56 456.1L54.2 457.9L52.4 456.1Z" fill="#2a2a2a"/>
<path d="M57.4 450.3L59.2 452.1L57.4 453.9L55.6 452.1Z" fill="#2a2a2a"/>
<path d="M54.2 457.6L56 459.4L54.2 461.2L52.4 459.4Z" fill="#2a2a2a"/>
<path d="M54.8 461.6L56.6 463.4L54.8 465.2L53 463.4Z" fill="#2a2a2a"/>
<path d="M46.3 468.7L48.1 470.5L46.3 472.3L44.5 470.5Z" fill="#2a2a2a"/>
<path d="M50.2 472.1L52 473.9L50.2 475.7L48.4 473.9Z" fill="#2a2a2a"/>
<path d="M50.2 476L52 477.8L50.2 479.6L48.4 477.8Z" fill="#2a2a2a"/>
<path d="M77.5 461.6L79.3 463.4L77.5 465.2L75.7 463.4Z" fill="#2a2a2a"/>
<path d="M79.1 464.7L80.9 466.5L79.1 468.3L77.3 466.5Z" fill="#2a2a2a"/>
<path d="M85.4 464.7L87.2 466.5L85.4 468.3L83.6 466.5Z" fill="#2a2a2a"/>
<path d="M87 468.7L88.8 470.5L87 472.3L85.2 470.5Z" fill="#2a2a2a"/>
<path d="M86.4 439.4L88.2 441.2L86.4 443L84.6 441.2Z" fill="#2a2a2a"/>
<path d="M87.8 439.4L89.6 441.2L87.8 443L86 441.2Z" fill="#2a2a2a"/>
<path d="M95.3 432.5L97.1 434.3L95.3 436.1L93.5 434.3Z" fill="#2a2a2a"/>
<path d="M99.3 432.5L101.1 434.3L99.3 436.1L97.5 434.3Z" fill="#2a2a2a"/>
<path d="M99.7 439.4L101.5 441.2L99.7 443L97.9 441.2Z" fill="#2a2a2a"/>
<path d="M95.3 447.3L97.1 449.1L95.3 450.9L93.5 449.1Z" fill="#2a2a2a"/>
<path d="M93 450.3L94.8 452.1L93 453.9L91.2 452.1Z" fill="#2a2a2a"/>
<path d="M92 457.6L93.8 459.4L92 461.2L90.2 459.4Z" fill="#2a2a2a"/>
<path d="M95.3 457.6L97.1 459.4L95.3 461.2L93.5 459.4Z" fill="#2a2a2a"/>
<path d="M98.3 454.3L100.1 456.1L98.3 457.9L96.5 456.1Z" fill="#2a2a2a"/>
<path d="M98.9 457.6L100.7 459.4L98.9 461.2L97.1 459.4Z" fill="#2a2a2a"/>
<path d="M100.9 457.6L102.7 459.4L100.9 461.2L99.1 459.4Z" fill="#2a2a2a"/>
<path d="M93 472.1L94.8 473.9L93 475.7L91.2 473.9Z" fill="#2a2a2a"/>
<path d="M93.3 480L95.1 481.8L93.3 483.6L91.5 481.8Z" fill="#2a2a2a"/>
<path d="M102.2 461.2L104 463L102.2 464.8L100.4 463Z" fill="#2a2a2a"/>
<path d="M101.3 475.4L103.1 477.2L101.3 479L99.5 477.2Z" fill="#2a2a2a"/>
<path d="M108.9 414.2L110.7 416L108.9 417.8L107.1 416Z" fill="#2a2a2a"/>
<path d="M108.9 417.8L110.7 419.6L108.9 421.4L107.1 419.6Z" fill="#2a2a2a"/>
<path d="M106.4 425.2L108.2 427L106.4 428.8L104.6 427Z" fill="#2a2a2a"/>
<path d="M105.9 429L107.7 430.8L105.9 432.6L104.1 430.8Z" fill="#2a2a2a"/>
<path d="M118 425.2L119.8 427L118 428.8L116.2 427Z" fill="#2a2a2a"/>
<path d="M157.2 425.2L159 427L157.2 428.8L155.4 427Z" fill="#2a2a2a"/>
<path d="M110.6 435.8L112.4 437.6L110.6 439.4L108.8 437.6Z" fill="#2a2a2a"/>
<path d="M108.5 439.6L110.3 441.4L108.5 443.2L106.7 441.4Z" fill="#2a2a2a"/>
<path d="M112.7 439.6L114.5 441.4L112.7 443.2L110.9 441.4Z" fill="#2a2a2a"/>
<path d="M101.1 439.6L102.9 441.4L101.1 443.2L99.3 441.4Z" fill="#2a2a2a"/>
<path d="M104.2 446.8L106 448.6L104.2 450.4L102.4 448.6Z" fill="#2a2a2a"/>
<path d="M110.2 446.8L112 448.6L110.2 450.4L108.4 448.6Z" fill="#2a2a2a"/>
<path d="M119.5 443.2L121.3 445L119.5 446.8L117.7 445Z" fill="#2a2a2a"/>
<path d="M122.9 443.2L124.7 445L122.9 446.8L121.1 445Z" fill="#2a2a2a"/>
<path d="M125.8 443.2L127.6 445L125.8 446.8L124 445Z" fill="#2a2a2a"/>
<path d="M132.8 439.6L134.6 441.4L132.8 443.2L131 441.4Z" fill="#2a2a2a"/>
<path d="M138.1 435.8L139.9 437.6L138.1 439.4L136.3 437.6Z" fill="#2a2a2a"/>
<path d="M139.8 439.6L141.6 441.4L139.8 443.2L138 441.4Z" fill="#2a2a2a"/>
<path d="M146.6 443.2L148.4 445L146.6 446.8L144.8 445Z" fill="#2a2a2a"/>
<path d="M106.4 450.6L108.2 452.4L106.4 454.2L104.6 452.4Z" fill="#2a2a2a"/>
<path d="M114.8 450.6L116.6 452.4L114.8 454.2L113 452.4Z" fill="#2a2a2a"/>
<path d="M122.9 450.6L124.7 452.4L122.9 454.2L121.1 452.4Z" fill="#2a2a2a"/>
<path d="M108.1 454.4L109.9 456.2L108.1 458L106.3 456.2Z" fill="#2a2a2a"/>
<path d="M119.5 454.4L121.3 456.2L119.5 458L117.7 456.2Z" fill="#2a2a2a"/>
<path d="M121.2 454.4L123 456.2L121.2 458L119.4 456.2Z" fill="#2a2a2a"/>
<path d="M101.1 457.4L102.9 459.2L101.1 461L99.3 459.2Z" fill="#2a2a2a"/>
<path d="M110.2 461.2L112 463L110.2 464.8L108.4 463Z" fill="#2a2a2a"/>
<path d="M103.2 461.2L105 463L103.2 464.8L101.4 463Z" fill="#2a2a2a"/>
<path d="M102.1 465L103.9 466.8L102.1 468.6L100.3 466.8Z" fill="#2a2a2a"/>
<path d="M104.2 465L106 466.8L104.2 468.6L102.4 466.8Z" fill="#2a2a2a"/>
<path d="M113.1 465L114.9 466.8L113.1 468.6L111.3 466.8Z" fill="#2a2a2a"/>
<path d="M116.9 465L118.7 466.8L116.9 468.6L115.1 466.8Z" fill="#2a2a2a"/>
<path d="M125.8 465L127.6 466.8L125.8 468.6L124 466.8Z" fill="#2a2a2a"/>
<path d="M134.3 461.6L136.1 463.4L134.3 465.2L132.5 463.4Z" fill="#2a2a2a"/>
<path d="M137.1 458L138.9 459.8L137.1 461.6L135.3 459.8Z" fill="#2a2a2a"/>
<path d="M108.5 468.6L110.3 470.4L108.5 472.2L106.7 470.4Z" fill="#2a2a2a"/>
<path d="M116.5 468.6L118.3 470.4L116.5 472.2L114.7 470.4Z" fill="#2a2a2a"/>
<path d="M103.8 471.8L105.6 473.6L103.8 475.4L102 473.6Z" fill="#2a2a2a"/>
<path d="M147 471.8L148.8 473.6L147 475.4L145.2 473.6Z" fill="#2a2a2a"/>
<path d="M101.1 476L102.9 477.8L101.1 479.6L99.3 477.8Z" fill="#2a2a2a"/>
<path d="M107.4 476L109.2 477.8L107.4 479.6L105.6 477.8Z" fill="#2a2a2a"/>
<path d="M108.9 476L110.7 477.8L108.9 479.6L107.1 477.8Z" fill="#2a2a2a"/>
<path d="M112.3 476L114.1 477.8L112.3 479.6L110.5 477.8Z" fill="#2a2a2a"/>
<path d="M127.1 476L128.9 477.8L127.1 479.6L125.3 477.8Z" fill="#2a2a2a"/>
<path d="M111.7 479.2L113.5 481L111.7 482.8L109.9 481Z" fill="#2a2a2a"/>
<rect x="37" y="502.7" width="136.2" height="108.6" fill="none" stroke="#555" stroke-width="0.9"/>
<path d="M37 515.95h1.2M37 529.5h1.8M37 543.1h1.2M37 556.7h1.8M37 570.35h1.2M37 584h1.8M37 597.5h1.2M52.15 611.3v-1.2M67.3 611.3v-1.8M82.45 611.3v-1.2M97.6 611.3v-1.8M112.75 611.3v-1.2M127.9 611.3v-1.8M143.05 611.3v-1.2M158.2 611.3v-1.8" stroke="#555" stroke-width="0.8" fill="none"/>
<text x="32.5" y="505.2" text-anchor="end" font-size="8.2" textLength="12.6" lengthAdjust="spacingAndGlyphs">800</text>
<text x="32.5" y="532.3" text-anchor="end" font-size="8.2" textLength="12.6" lengthAdjust="spacingAndGlyphs">600</text>
<text x="32.5" y="559.5" text-anchor="end" font-size="8.2" textLength="12.6" lengthAdjust="spacingAndGlyphs">400</text>
<text x="32.5" y="586.8" text-anchor="end" font-size="8.2" textLength="12.6" lengthAdjust="spacingAndGlyphs">200</text>
<text x="32.5" y="613.8" text-anchor="end" font-size="8.2" textLength="4.2" lengthAdjust="spacingAndGlyphs">0</text>
<text transform="translate(13.4 598.2) rotate(-90)" font-size="8" textLength="78.5" lengthAdjust="spacingAndGlyphs">LDBs (Vehicles.h<tspan font-size="5.5" dy="-4.4">-1</tspan><tspan dy="4.4">)</tspan></text>
<text x="118.2" y="512.5" font-size="7.2" textLength="49.9" lengthAdjust="spacingAndGlyphs">y= 0.247x + 91.9</text>
<text x="129.9" y="522.3" font-size="7.2" textLength="30.4" lengthAdjust="spacingAndGlyphs">R<tspan font-size="5" dy="-3">2</tspan><tspan dy="3">= 0.593</tspan></text>
<line x1="47.9" y1="593.3" x2="156.1" y2="545.7" stroke="#555" stroke-width="0.8"/>
<path d="M47.1 586.6L44.22 585L44.22 588.2Z" fill="#2a2a2a"/>
<path d="M49.1 586.6L46.22 585L46.22 588.2Z" fill="#2a2a2a"/>
<path d="M51 587L48.12 585.4L48.12 588.6Z" fill="#2a2a2a"/>
<path d="M53 587L50.12 585.4L50.12 588.6Z" fill="#2a2a2a"/>
<path d="M46.5 589L43.62 587.4L43.62 590.6Z" fill="#2a2a2a"/>
<path d="M48.5 590L45.62 588.4L45.62 591.6Z" fill="#2a2a2a"/>
<path d="M50.5 589L47.62 587.4L47.62 590.6Z" fill="#2a2a2a"/>
<path d="M46.5 592L43.62 590.4L43.62 593.6Z" fill="#2a2a2a"/>
<path d="M49.5 592.9L46.62 591.3L46.62 594.5Z" fill="#2a2a2a"/>
<path d="M47.1 594.5L44.22 592.9L44.22 596.1Z" fill="#2a2a2a"/>
<path d="M48.5 594.9L45.62 593.3L45.62 596.5Z" fill="#2a2a2a"/>
<path d="M58.4 586.6L55.52 585L55.52 588.2Z" fill="#2a2a2a"/>
<path d="M47.1 598.5L44.22 596.9L44.22 600.1Z" fill="#2a2a2a"/>
<path d="M49.5 598.9L46.62 597.3L46.62 600.5Z" fill="#2a2a2a"/>
<path d="M51.4 598.5L48.52 596.9L48.52 600.1Z" fill="#2a2a2a"/>
<path d="M55.4 595.9L52.52 594.3L52.52 597.5Z" fill="#2a2a2a"/>
<path d="M55.8 598.9L52.92 597.3L52.92 600.5Z" fill="#2a2a2a"/>
<path d="M57 599.9L54.12 598.3L54.12 601.5Z" fill="#2a2a2a"/>
<path d="M62.3 597.9L59.42 596.3L59.42 599.5Z" fill="#2a2a2a"/>
<path d="M51.4 602.4L48.52 600.8L48.52 604Z" fill="#2a2a2a"/>
<path d="M55 605.8L52.12 604.2L52.12 607.4Z" fill="#2a2a2a"/>
<path d="M51 608.8L48.12 607.2L48.12 610.4Z" fill="#2a2a2a"/>
<path d="M78.1 593.3L75.22 591.7L75.22 594.9Z" fill="#2a2a2a"/>
<path d="M79.5 586L76.62 584.4L76.62 587.6Z" fill="#2a2a2a"/>
<path d="M86.6 582.7L83.72 581.1L83.72 584.3Z" fill="#2a2a2a"/>
<path d="M88 581.1L85.12 579.5L85.12 582.7Z" fill="#2a2a2a"/>
<path d="M87.4 574.7L84.52 573.1L84.52 576.3Z" fill="#2a2a2a"/>
<path d="M88.6 557.3L85.72 555.7L85.72 558.9Z" fill="#2a2a2a"/>
<path d="M92.6 576.7L89.72 575.1L89.72 578.3Z" fill="#2a2a2a"/>
<path d="M94 579.1L91.12 577.5L91.12 580.7Z" fill="#2a2a2a"/>
<path d="M93 584.6L90.12 583L90.12 586.2Z" fill="#2a2a2a"/>
<path d="M94.4 591L91.52 589.4L91.52 592.6Z" fill="#2a2a2a"/>
<path d="M96.3 559.3L93.42 557.7L93.42 560.9Z" fill="#2a2a2a"/>
<path d="M96.3 562.9L93.42 561.3L93.42 564.5Z" fill="#2a2a2a"/>
<path d="M98.5 587.4L95.62 585.8L95.62 589Z" fill="#2a2a2a"/>
<path d="M99.9 566.8L97.02 565.2L97.02 568.4Z" fill="#2a2a2a"/>
<path d="M100.5 582.7L97.62 581.1L97.62 584.3Z" fill="#2a2a2a"/>
<path d="M100.9 545.1L98.02 543.5L98.02 546.7Z" fill="#2a2a2a"/>
<path d="M111.8 541.9L108.92 540.3L108.92 543.5Z" fill="#2a2a2a"/>
<path d="M102.7 545.6L99.82 544L99.82 547.2Z" fill="#2a2a2a"/>
<path d="M105.8 547L102.92 545.4L102.92 548.6Z" fill="#2a2a2a"/>
<path d="M109 545.6L106.12 544L106.12 547.2Z" fill="#2a2a2a"/>
<path d="M116 547L113.12 545.4L113.12 548.6Z" fill="#2a2a2a"/>
<path d="M106.3 550.8L103.42 549.2L103.42 552.4Z" fill="#2a2a2a"/>
<path d="M110.1 551.9L107.22 550.3L107.22 553.5Z" fill="#2a2a2a"/>
<path d="M118.1 550.8L115.22 549.2L115.22 552.4Z" fill="#2a2a2a"/>
<path d="M102.7 554.7L99.82 553.1L99.82 556.3Z" fill="#2a2a2a"/>
<path d="M108 556.8L105.12 555.2L105.12 558.4Z" fill="#2a2a2a"/>
<path d="M109.7 557.6L106.82 556L106.82 559.2Z" fill="#2a2a2a"/>
<path d="M110.5 558.9L107.62 557.3L107.62 560.5Z" fill="#2a2a2a"/>
<path d="M113.9 555.5L111.02 553.9L111.02 557.1Z" fill="#2a2a2a"/>
<path d="M121.7 554.7L118.82 553.1L118.82 556.3Z" fill="#2a2a2a"/>
<path d="M127 556.8L124.12 555.2L124.12 558.4Z" fill="#2a2a2a"/>
<path d="M138 553L135.12 551.4L135.12 554.6Z" fill="#2a2a2a"/>
<path d="M139.3 557.2L136.42 555.6L136.42 558.8Z" fill="#2a2a2a"/>
<path d="M141.4 557.6L138.52 556L138.52 559.2Z" fill="#2a2a2a"/>
<path d="M147.2 551.9L144.32 550.3L144.32 553.5Z" fill="#2a2a2a"/>
<path d="M158.4 542.4L155.52 540.8L155.52 544Z" fill="#2a2a2a"/>
<path d="M120.2 560.4L117.32 558.8L117.32 562Z" fill="#2a2a2a"/>
<path d="M122.8 560.4L119.92 558.8L119.92 562Z" fill="#2a2a2a"/>
<path d="M134.4 562.5L131.52 560.9L131.52 564.1Z" fill="#2a2a2a"/>
<path d="M148.6 561.9L145.72 560.3L145.72 563.5Z" fill="#2a2a2a"/>
<path d="M111.1 564L108.22 562.4L108.22 565.6Z" fill="#2a2a2a"/>
<path d="M113.3 564L110.42 562.4L110.42 565.6Z" fill="#2a2a2a"/>
<path d="M117.5 565.7L114.62 564.1L114.62 567.3Z" fill="#2a2a2a"/>
<path d="M121.1 568.2L118.22 566.6L118.22 569.8Z" fill="#2a2a2a"/>
<path d="M128.1 569.5L125.22 567.9L125.22 571.1Z" fill="#2a2a2a"/>
<path d="M103.7 573.1L100.82 571.5L100.82 574.7Z" fill="#2a2a2a"/>
<path d="M108 574.6L105.12 573L105.12 576.2Z" fill="#2a2a2a"/>
<path d="M118.1 573.7L115.22 572.1L115.22 575.3Z" fill="#2a2a2a"/>
<path d="M123.2 574.2L120.32 572.6L120.32 575.8Z" fill="#2a2a2a"/>
<path d="M135.5 573.1L132.62 571.5L132.62 574.7Z" fill="#2a2a2a"/>
<path d="M127 577.3L124.12 575.7L124.12 578.9Z" fill="#2a2a2a"/>
<path d="M111.1 579.4L108.22 577.8L108.22 581Z" fill="#2a2a2a"/>
<path d="M109 581.6L106.12 580L106.12 583.2Z" fill="#2a2a2a"/>
<path d="M113.3 583.1L110.42 581.5L110.42 584.7Z" fill="#2a2a2a"/>
<path d="M106.3 584.7L103.42 583.1L103.42 586.3Z" fill="#2a2a2a"/>
<path d="M103.3 547.5L100.42 545.9L100.42 549.1Z" fill="#2a2a2a"/>
<path d="M100.5 553L97.62 551.4L97.62 554.6Z" fill="#2a2a2a"/>
<path d="M101.9 554.4L99.02 552.8L99.02 556Z" fill="#2a2a2a"/>
<path d="M104.4 573.6L101.52 572L101.52 575.2Z" fill="#2a2a2a"/>
<rect x="34.7" y="622.3" width="137.6" height="94.8" fill="none" stroke="#555" stroke-width="0.9"/>
<path d="M34.7 637.6h1.2M34.7 653.6h1.8M34.7 669.5h1.2M34.7 685.4h1.8M34.7 701.1h1.2M50.03 717.1v-1.2M65.35 717.1v-1.8M80.68 717.1v-1.2M96 717.1v-1.8M111.33 717.1v-1.2M126.65 717.1v-1.8M141.98 717.1v-1.2M157.3 717.1v-1.8" stroke="#555" stroke-width="0.8" fill="none"/>
<text x="30.2" y="624.4" text-anchor="end" font-size="8.2" textLength="12.6" lengthAdjust="spacingAndGlyphs">300</text>
<text x="30.2" y="656.4" text-anchor="end" font-size="8.2" textLength="12.6" lengthAdjust="spacingAndGlyphs">200</text>
<text x="30.2" y="688.2" text-anchor="end" font-size="8.2" textLength="12.6" lengthAdjust="spacingAndGlyphs">100</text>
<text x="30.2" y="719.6" text-anchor="end" font-size="8.2" textLength="4.2" lengthAdjust="spacingAndGlyphs">0</text>
<text x="34.7" y="726.5" text-anchor="middle" font-size="8.2" textLength="4.2" lengthAdjust="spacingAndGlyphs">0</text>
<text x="65.35" y="726.5" text-anchor="middle" font-size="8.2" textLength="12.6" lengthAdjust="spacingAndGlyphs">400</text>
<text x="96" y="726.5" text-anchor="middle" font-size="8.2" textLength="12.6" lengthAdjust="spacingAndGlyphs">800</text>
<text x="126.65" y="726.5" text-anchor="middle" font-size="8.2" textLength="16.8" lengthAdjust="spacingAndGlyphs">1200</text>
<text x="157.3" y="726.5" text-anchor="middle" font-size="8.2" textLength="16.8" lengthAdjust="spacingAndGlyphs">1600</text>
<text transform="translate(14 702.3) rotate(-90)" font-size="8" textLength="66.2" lengthAdjust="spacingAndGlyphs">HDBs (Vehicles.h<tspan font-size="5.5" dy="-4.4">-1</tspan><tspan dy="4.4">)</tspan></text>
<text x="117.2" y="629.7" font-size="7.2" textLength="50.1" lengthAdjust="spacingAndGlyphs">y= 0.139x + 12.2</text>
<text x="129.4" y="637.3" font-size="7.2" textLength="28.9" lengthAdjust="spacingAndGlyphs">R<tspan font-size="5" dy="-3">2</tspan><tspan dy="3">= 0.802</tspan></text>
<line x1="42.9" y1="708.4" x2="154.8" y2="643.7" stroke="#555" stroke-width="0.8"/>
<path d="M54.8 677.7L56.4 680.58L53.2 680.58Z" fill="none" stroke="#2a2a2a" stroke-width="0.72"/>
<path d="M45.9 701.1L47.5 703.98L44.3 703.98Z" fill="none" stroke="#2a2a2a" stroke-width="0.72"/>
<path d="M48.4 699.1L50 701.98L46.8 701.98Z" fill="none" stroke="#2a2a2a" stroke-width="0.72"/>
<path d="M51.2 702.4L52.8 705.28L49.6 705.28Z" fill="none" stroke="#2a2a2a" stroke-width="0.72"/>
<path d="M52.4 703.8L54 706.68L50.8 706.68Z" fill="none" stroke="#2a2a2a" stroke-width="0.72"/>
<path d="M58.7 703L60.3 705.88L57.1 705.88Z" fill="none" stroke="#2a2a2a" stroke-width="0.72"/>
<path d="M43.3 711.3L44.9 714.18L41.7 714.18Z" fill="none" stroke="#2a2a2a" stroke-width="0.72"/>
<path d="M45.3 709.8L46.9 712.68L43.7 712.68Z" fill="none" stroke="#2a2a2a" stroke-width="0.72"/>
<path d="M47.2 709.8L48.8 712.68L45.6 712.68Z" fill="none" stroke="#2a2a2a" stroke-width="0.72"/>
<path d="M50.8 710.4L52.4 713.28L49.2 713.28Z" fill="none" stroke="#2a2a2a" stroke-width="0.72"/>
<path d="M52.8 709.4L54.4 712.28L51.2 712.28Z" fill="none" stroke="#2a2a2a" stroke-width="0.72"/>
<path d="M42.9 713.3L44.5 716.18L41.3 716.18Z" fill="none" stroke="#2a2a2a" stroke-width="0.72"/>
<path d="M44.5 713.7L46.1 716.58L42.9 716.58Z" fill="none" stroke="#2a2a2a" stroke-width="0.72"/>
<path d="M45.9 713.3L47.5 716.18L44.3 716.18Z" fill="none" stroke="#2a2a2a" stroke-width="0.72"/>
<path d="M47.2 714.3L48.8 717.18L45.6 717.18Z" fill="none" stroke="#2a2a2a" stroke-width="0.72"/>
<path d="M76.1 680.7L77.7 683.58L74.5 683.58Z" fill="none" stroke="#2a2a2a" stroke-width="0.72"/>
<path d="M74.5 687.2L76.1 690.08L72.9 690.08Z" fill="none" stroke="#2a2a2a" stroke-width="0.72"/>
<path d="M84 663.5L85.6 666.38L82.4 666.38Z" fill="none" stroke="#2a2a2a" stroke-width="0.72"/>
<path d="M82.8 671.8L84.4 674.68L81.2 674.68Z" fill="none" stroke="#2a2a2a" stroke-width="0.72"/>
<path d="M84.4 675.7L86 678.58L82.8 678.58Z" fill="none" stroke="#2a2a2a" stroke-width="0.72"/>
<path d="M85.4 676.7L87 679.58L83.8 679.58Z" fill="none" stroke="#2a2a2a" stroke-width="0.72"/>
<path d="M90.3 689.6L91.9 692.48L88.7 692.48Z" fill="none" stroke="#2a2a2a" stroke-width="0.72"/>
<path d="M89.4 676.7L91 679.58L87.8 679.58Z" fill="none" stroke="#2a2a2a" stroke-width="0.72"/>
<path d="M90.7 672.8L92.3 675.68L89.1 675.68Z" fill="none" stroke="#2a2a2a" stroke-width="0.72"/>
<path d="M91.9 673.8L93.5 676.68L90.3 676.68Z" fill="none" stroke="#2a2a2a" stroke-width="0.72"/>
<path d="M91.3 676.1L92.9 678.98L89.7 678.98Z" fill="none" stroke="#2a2a2a" stroke-width="0.72"/>
<path d="M92.3 662.3L93.9 665.18L90.7 665.18Z" fill="none" stroke="#2a2a2a" stroke-width="0.72"/>
<path d="M94.7 678.1L96.3 680.98L93.1 680.98Z" fill="none" stroke="#2a2a2a" stroke-width="0.72"/>
<path d="M95.9 677.7L97.5 680.58L94.3 680.58Z" fill="none" stroke="#2a2a2a" stroke-width="0.72"/>
<path d="M96.3 668.8L97.9 671.68L94.7 671.68Z" fill="none" stroke="#2a2a2a" stroke-width="0.72"/>
<path d="M97.3 662.3L98.9 665.18L95.7 665.18Z" fill="none" stroke="#2a2a2a" stroke-width="0.72"/>
<path d="M98.7 658.5L100.3 661.38L97.1 661.38Z" fill="none" stroke="#2a2a2a" stroke-width="0.72"/>
<path d="M97.9 672.8L99.5 675.68L96.3 675.68Z" fill="none" stroke="#2a2a2a" stroke-width="0.72"/>
<path d="M123.8 641.7L125.4 644.58L122.2 644.58Z" fill="none" stroke="#2a2a2a" stroke-width="0.72"/>
<path d="M125.1 652.3L126.7 655.18L123.5 655.18Z" fill="none" stroke="#2a2a2a" stroke-width="0.72"/>
<path d="M132.3 652.3L133.9 655.18L130.7 655.18Z" fill="none" stroke="#2a2a2a" stroke-width="0.72"/>
<path d="M144.6 651.9L146.2 654.78L143 654.78Z" fill="none" stroke="#2a2a2a" stroke-width="0.72"/>
<path d="M117.5 654.8L119.1 657.68L115.9 657.68Z" fill="none" stroke="#2a2a2a" stroke-width="0.72"/>
<path d="M109 656.1L110.6 658.98L107.4 658.98Z" fill="none" stroke="#2a2a2a" stroke-width="0.72"/>
<path d="M115.4 657.6L117 660.48L113.8 660.48Z" fill="none" stroke="#2a2a2a" stroke-width="0.72"/>
<path d="M112.4 660.4L114 663.28L110.8 663.28Z" fill="none" stroke="#2a2a2a" stroke-width="0.72"/>
<path d="M98.4 658.7L100 661.58L96.8 661.58Z" fill="none" stroke="#2a2a2a" stroke-width="0.72"/>
<path d="M123.4 661.8L125 664.68L121.8 664.68Z" fill="none" stroke="#2a2a2a" stroke-width="0.72"/>
<path d="M137.8 662.9L139.4 665.78L136.2 665.78Z" fill="none" stroke="#2a2a2a" stroke-width="0.72"/>
<path d="M145 661.2L146.6 664.08L143.4 664.08Z" fill="none" stroke="#2a2a2a" stroke-width="0.72"/>
<path d="M154.8 665.4L156.4 668.28L153.2 668.28Z" fill="none" stroke="#2a2a2a" stroke-width="0.72"/>
<path d="M135.7 664.6L137.3 667.48L134.1 667.48Z" fill="none" stroke="#2a2a2a" stroke-width="0.72"/>
<path d="M130.2 667.1L131.8 669.98L128.6 669.98Z" fill="none" stroke="#2a2a2a" stroke-width="0.72"/>
<path d="M134.4 670.9L136 673.78L132.8 673.78Z" fill="none" stroke="#2a2a2a" stroke-width="0.72"/>
<path d="M106.5 660.8L108.1 663.68L104.9 663.68Z" fill="none" stroke="#2a2a2a" stroke-width="0.72"/>
<path d="M107.5 662.9L109.1 665.78L105.9 665.78Z" fill="none" stroke="#2a2a2a" stroke-width="0.72"/>
<path d="M105.4 663.3L107 666.18L103.8 666.18Z" fill="none" stroke="#2a2a2a" stroke-width="0.72"/>
<path d="M108.2 664.6L109.8 667.48L106.6 667.48Z" fill="none" stroke="#2a2a2a" stroke-width="0.72"/>
<path d="M104.4 665.4L106 668.28L102.8 668.28Z" fill="none" stroke="#2a2a2a" stroke-width="0.72"/>
<path d="M101.2 665L102.8 667.88L99.6 667.88Z" fill="none" stroke="#2a2a2a" stroke-width="0.72"/>
<path d="M99.1 667.6L100.7 670.48L97.5 670.48Z" fill="none" stroke="#2a2a2a" stroke-width="0.72"/>
<path d="M102.7 667.6L104.3 670.48L101.1 670.48Z" fill="none" stroke="#2a2a2a" stroke-width="0.72"/>
<path d="M106.1 666.7L107.7 669.58L104.5 669.58Z" fill="none" stroke="#2a2a2a" stroke-width="0.72"/>
<path d="M110.7 665.4L112.3 668.28L109.1 668.28Z" fill="none" stroke="#2a2a2a" stroke-width="0.72"/>
<path d="M109.7 667.6L111.3 670.48L108.1 670.48Z" fill="none" stroke="#2a2a2a" stroke-width="0.72"/>
<path d="M113.3 667.1L114.9 669.98L111.7 669.98Z" fill="none" stroke="#2a2a2a" stroke-width="0.72"/>
<path d="M117.5 665.4L119.1 668.28L115.9 668.28Z" fill="none" stroke="#2a2a2a" stroke-width="0.72"/>
<path d="M119.6 666.1L121.2 668.98L118 668.98Z" fill="none" stroke="#2a2a2a" stroke-width="0.72"/>
<path d="M114.5 668.8L116.1 671.68L112.9 671.68Z" fill="none" stroke="#2a2a2a" stroke-width="0.72"/>
<path d="M117.5 670.3L119.1 673.18L115.9 673.18Z" fill="none" stroke="#2a2a2a" stroke-width="0.72"/>
<path d="M120.2 670.3L121.8 673.18L118.6 673.18Z" fill="none" stroke="#2a2a2a" stroke-width="0.72"/>
<path d="M102.7 670.3L104.3 673.18L101.1 673.18Z" fill="none" stroke="#2a2a2a" stroke-width="0.72"/>
<path d="M106.1 671.4L107.7 674.28L104.5 674.28Z" fill="none" stroke="#2a2a2a" stroke-width="0.72"/>
<path d="M103.3 678.1L104.9 680.98L101.7 680.98Z" fill="none" stroke="#2a2a2a" stroke-width="0.72"/>
<path d="M106.1 681.5L107.7 684.38L104.5 684.38Z" fill="none" stroke="#2a2a2a" stroke-width="0.72"/>
<path d="M108.2 686.6L109.8 689.48L106.6 689.48Z" fill="none" stroke="#2a2a2a" stroke-width="0.72"/>
<rect x="217.2" y="7.3" width="136.1" height="109" fill="none" stroke="#555" stroke-width="0.9"/>
<path d="M217.2 25.15h1.2M217.2 43.2h1.8M217.2 61.4h1.2M217.2 79.6h1.8M217.2 97.55h1.2M232.39 116.3v-1.2M247.57 116.3v-1.8M262.76 116.3v-1.2M277.95 116.3v-1.8M293.14 116.3v-1.2M308.32 116.3v-1.8M323.51 116.3v-1.2M338.7 116.3v-1.8" stroke="#555" stroke-width="0.8" fill="none"/>
<text x="212.7" y="9.9" text-anchor="end" font-size="8.2" textLength="12.6" lengthAdjust="spacingAndGlyphs">150</text>
<text x="212.7" y="46" text-anchor="end" font-size="8.2" textLength="12.6" lengthAdjust="spacingAndGlyphs">100</text>
<text x="212.7" y="82.4" text-anchor="end" font-size="8.2" textLength="8.4" lengthAdjust="spacingAndGlyphs">50</text>
<text x="212.7" y="118.3" text-anchor="end" font-size="8.2" textLength="4.2" lengthAdjust="spacingAndGlyphs">0</text>
<text transform="translate(193 96.7) rotate(-90)" font-size="8" textLength="70.2" lengthAdjust="spacingAndGlyphs">MTs (Vehicles.h<tspan font-size="5.5" dy="-4.4">-1</tspan><tspan dy="4.4">)</tspan></text>
<text x="297.3" y="14.7" font-size="7.2" textLength="49.9" lengthAdjust="spacingAndGlyphs">y= 0.013x + 25.4</text>
<text x="309.5" y="22.4" font-size="7.2" textLength="31.4" lengthAdjust="spacingAndGlyphs">R<tspan font-size="5" dy="-3">2</tspan><tspan dy="3">= 0.060</tspan></text>
<line x1="226.9" y1="96.2" x2="336.6" y2="82" stroke="#555" stroke-width="0.8"/>
<circle cx="229.2" cy="85.1" r="1.35" fill="#2a2a2a"/>
<circle cx="227.9" cy="87.7" r="1.35" fill="#2a2a2a"/>
<circle cx="225.3" cy="90" r="1.35" fill="#2a2a2a"/>
<circle cx="225.3" cy="95" r="1.35" fill="#2a2a2a"/>
<circle cx="227.3" cy="96.4" r="1.35" fill="#2a2a2a"/>
<circle cx="225.9" cy="97.9" r="1.35" fill="#2a2a2a"/>
<circle cx="230.4" cy="96.4" r="1.35" fill="#2a2a2a"/>
<circle cx="228.4" cy="99.5" r="1.35" fill="#2a2a2a"/>
<circle cx="226.9" cy="101.9" r="1.35" fill="#2a2a2a"/>
<circle cx="225.9" cy="103.5" r="1.35" fill="#2a2a2a"/>
<circle cx="229.2" cy="105.9" r="1.35" fill="#2a2a2a"/>
<circle cx="229.8" cy="106.8" r="1.35" fill="#2a2a2a"/>
<circle cx="233.8" cy="99.5" r="1.35" fill="#2a2a2a"/>
<circle cx="234.8" cy="95.6" r="1.35" fill="#2a2a2a"/>
<circle cx="236.4" cy="95" r="1.35" fill="#2a2a2a"/>
<circle cx="233.8" cy="107.8" r="1.35" fill="#2a2a2a"/>
<circle cx="240.3" cy="99.5" r="1.35" fill="#2a2a2a"/>
<circle cx="229.2" cy="114.8" r="1.35" fill="#2a2a2a"/>
<circle cx="256.9" cy="92" r="1.35" fill="#2a2a2a"/>
<circle cx="258.5" cy="100.9" r="1.35" fill="#2a2a2a"/>
<circle cx="265.4" cy="79.7" r="1.35" fill="#2a2a2a"/>
<circle cx="267.4" cy="71.2" r="1.35" fill="#2a2a2a"/>
<circle cx="266.8" cy="89" r="1.35" fill="#2a2a2a"/>
<circle cx="266" cy="99.5" r="1.35" fill="#2a2a2a"/>
<circle cx="271.4" cy="92" r="1.35" fill="#2a2a2a"/>
<circle cx="272.7" cy="90" r="1.35" fill="#2a2a2a"/>
<circle cx="272" cy="97" r="1.35" fill="#2a2a2a"/>
<circle cx="274.3" cy="63.9" r="1.35" fill="#2a2a2a"/>
<circle cx="278.3" cy="73.2" r="1.35" fill="#2a2a2a"/>
<circle cx="279.9" cy="67.9" r="1.35" fill="#2a2a2a"/>
<circle cx="280.7" cy="68.3" r="1.35" fill="#2a2a2a"/>
<circle cx="276.7" cy="89.6" r="1.35" fill="#2a2a2a"/>
<circle cx="278.3" cy="97" r="1.35" fill="#2a2a2a"/>
<circle cx="274.3" cy="110.8" r="1.35" fill="#2a2a2a"/>
<circle cx="274.7" cy="113.8" r="1.35" fill="#2a2a2a"/>
<circle cx="278.7" cy="114.2" r="1.35" fill="#2a2a2a"/>
<circle cx="284.3" cy="52.7" r="1.35" fill="#2a2a2a"/>
<circle cx="299.8" cy="54.2" r="1.35" fill="#2a2a2a"/>
<circle cx="282.2" cy="61.8" r="1.35" fill="#2a2a2a"/>
<circle cx="285.8" cy="61.1" r="1.35" fill="#2a2a2a"/>
<circle cx="288.5" cy="62.6" r="1.35" fill="#2a2a2a"/>
<circle cx="289.6" cy="61.8" r="1.35" fill="#2a2a2a"/>
<circle cx="280.1" cy="67.5" r="1.35" fill="#2a2a2a"/>
<circle cx="288.5" cy="68.1" r="1.35" fill="#2a2a2a"/>
<circle cx="287.5" cy="73.2" r="1.35" fill="#2a2a2a"/>
<circle cx="289.6" cy="72.8" r="1.35" fill="#2a2a2a"/>
<circle cx="292.1" cy="73.2" r="1.35" fill="#2a2a2a"/>
<circle cx="297" cy="72.4" r="1.35" fill="#2a2a2a"/>
<circle cx="301.2" cy="73.9" r="1.35" fill="#2a2a2a"/>
<circle cx="304.8" cy="74.9" r="1.35" fill="#2a2a2a"/>
<circle cx="317.1" cy="68.1" r="1.35" fill="#2a2a2a"/>
<circle cx="316.1" cy="72.4" r="1.35" fill="#2a2a2a"/>
<circle cx="336.6" cy="77.5" r="1.35" fill="#2a2a2a"/>
<circle cx="289.2" cy="78.1" r="1.35" fill="#2a2a2a"/>
<circle cx="285.8" cy="80.8" r="1.35" fill="#2a2a2a"/>
<circle cx="290" cy="81.7" r="1.35" fill="#2a2a2a"/>
<circle cx="282.8" cy="83.4" r="1.35" fill="#2a2a2a"/>
<circle cx="287" cy="84.4" r="1.35" fill="#2a2a2a"/>
<circle cx="287.9" cy="85.9" r="1.35" fill="#2a2a2a"/>
<circle cx="296.4" cy="85.9" r="1.35" fill="#2a2a2a"/>
<circle cx="302.3" cy="85.9" r="1.35" fill="#2a2a2a"/>
<circle cx="305.5" cy="81.7" r="1.35" fill="#2a2a2a"/>
<circle cx="312.5" cy="86.6" r="1.35" fill="#2a2a2a"/>
<circle cx="287.9" cy="89.7" r="1.35" fill="#2a2a2a"/>
<circle cx="301.9" cy="92.3" r="1.35" fill="#2a2a2a"/>
<circle cx="299.1" cy="97.8" r="1.35" fill="#2a2a2a"/>
<circle cx="306.5" cy="99.3" r="1.35" fill="#2a2a2a"/>
<circle cx="314" cy="95.7" r="1.35" fill="#2a2a2a"/>
<circle cx="285.4" cy="102.5" r="1.35" fill="#2a2a2a"/>
<circle cx="291.3" cy="102.9" r="1.35" fill="#2a2a2a"/>
<circle cx="293.8" cy="102.5" r="1.35" fill="#2a2a2a"/>
<circle cx="290" cy="105.6" r="1.35" fill="#2a2a2a"/>
<circle cx="283.7" cy="106.7" r="1.35" fill="#2a2a2a"/>
<circle cx="281.5" cy="107.1" r="1.35" fill="#2a2a2a"/>
<circle cx="288.5" cy="109.2" r="1.35" fill="#2a2a2a"/>
<circle cx="292.1" cy="109.2" r="1.35" fill="#2a2a2a"/>
<circle cx="296.4" cy="110.5" r="1.35" fill="#2a2a2a"/>
<circle cx="299.1" cy="109.2" r="1.35" fill="#2a2a2a"/>
<circle cx="319.7" cy="109.9" r="1.35" fill="#2a2a2a"/>
<circle cx="326" cy="109.9" r="1.35" fill="#2a2a2a"/>
<circle cx="326.7" cy="113.1" r="1.35" fill="#2a2a2a"/>
<circle cx="280.1" cy="114.7" r="1.35" fill="#2a2a2a"/>
<circle cx="282.6" cy="106.8" r="1.35" fill="#2a2a2a"/>
<circle cx="284.2" cy="102.3" r="1.35" fill="#2a2a2a"/>
<circle cx="283.2" cy="83.1" r="1.35" fill="#2a2a2a"/>
<rect x="217.4" y="131" width="135.9" height="108.3" fill="none" stroke="#555" stroke-width="0.9"/>
<path d="M217.4 144.7h1.2M217.4 158.2h1.8M217.4 171.6h1.2M217.4 185h1.8M217.4 198.6h1.2M217.4 212.2h1.8M217.4 225.9h1.2M232.56 239.3v-1.2M247.72 239.3v-1.8M262.89 239.3v-1.2M278.05 239.3v-1.8M293.21 239.3v-1.2M308.38 239.3v-1.8M323.54 239.3v-1.2M338.7 239.3v-1.8" stroke="#555" stroke-width="0.8" fill="none"/>
<text x="212.9" y="134" text-anchor="end" font-size="8.2" textLength="8.4" lengthAdjust="spacingAndGlyphs">40</text>
<text x="212.9" y="161" text-anchor="end" font-size="8.2" textLength="8.4" lengthAdjust="spacingAndGlyphs">30</text>
<text x="212.9" y="187.8" text-anchor="end" font-size="8.2" textLength="8.4" lengthAdjust="spacingAndGlyphs">20</text>
<text x="212.9" y="215" text-anchor="end" font-size="8.2" textLength="8.4" lengthAdjust="spacingAndGlyphs">10</text>
<text x="212.9" y="242.4" text-anchor="end" font-size="8.2" textLength="4.2" lengthAdjust="spacingAndGlyphs">0</text>
<text transform="translate(197.3 222.5) rotate(-90)" font-size="8" textLength="77.2" lengthAdjust="spacingAndGlyphs">MDTs (Vehicles.h<tspan font-size="5.5" dy="-4.4">-1</tspan><tspan dy="4.4">)</tspan></text>
<text x="300.1" y="140.2" font-size="7.2" textLength="47.1" lengthAdjust="spacingAndGlyphs">y= -0.001x + 9.2</text>
<text x="312.6" y="147.1" font-size="7.2" textLength="29" lengthAdjust="spacingAndGlyphs">R<tspan font-size="5" dy="-3">2</tspan><tspan dy="3">= 0.006</tspan></text>
<line x1="225.9" y1="214.8" x2="336.6" y2="219.1" stroke="#555" stroke-width="0.8"/>
<path d="M229.8 198.4L231.4 195.52L228.2 195.52Z" fill="#2a2a2a"/>
<path d="M234.8 198.4L236.4 195.52L233.2 195.52Z" fill="#2a2a2a"/>
<path d="M241.1 200.8L242.7 197.92L239.5 197.92Z" fill="#2a2a2a"/>
<path d="M237.1 206.3L238.7 203.42L235.5 203.42Z" fill="#2a2a2a"/>
<path d="M233.8 209.1L235.4 206.22L232.2 206.22Z" fill="#2a2a2a"/>
<path d="M235.8 211.7L237.4 208.82L234.2 208.82Z" fill="#2a2a2a"/>
<path d="M225.9 209.1L227.5 206.22L224.3 206.22Z" fill="#2a2a2a"/>
<path d="M226.5 211.7L228.1 208.82L224.9 208.82Z" fill="#2a2a2a"/>
<path d="M225.3 214.2L226.9 211.32L223.7 211.32Z" fill="#2a2a2a"/>
<path d="M225.9 216.6L227.5 213.72L224.3 213.72Z" fill="#2a2a2a"/>
<path d="M227.9 219.6L229.5 216.72L226.3 216.72Z" fill="#2a2a2a"/>
<path d="M225.9 222.1L227.5 219.22L224.3 219.22Z" fill="#2a2a2a"/>
<path d="M229.2 225.5L230.8 222.62L227.6 222.62Z" fill="#2a2a2a"/>
<path d="M233.8 227.5L235.4 224.62L232.2 224.62Z" fill="#2a2a2a"/>
<path d="M226.9 230.8L228.5 227.92L225.3 227.92Z" fill="#2a2a2a"/>
<path d="M228.4 232.4L230 229.52L226.8 229.52Z" fill="#2a2a2a"/>
<path d="M230.8 230.8L232.4 227.92L229.2 227.92Z" fill="#2a2a2a"/>
<path d="M229.8 238L231.4 235.12L228.2 235.12Z" fill="#2a2a2a"/>
<path d="M258.5 194.9L260.1 192.02L256.9 192.02Z" fill="#2a2a2a"/>
<path d="M265.4 197.8L267 194.92L263.8 194.92Z" fill="#2a2a2a"/>
<path d="M267.4 197.8L269 194.92L265.8 194.92Z" fill="#2a2a2a"/>
<path d="M256.9 219.6L258.5 216.72L255.3 216.72Z" fill="#2a2a2a"/>
<path d="M267.4 214.2L269 211.32L265.8 211.32Z" fill="#2a2a2a"/>
<path d="M272.3 206.3L273.9 203.42L270.7 203.42Z" fill="#2a2a2a"/>
<path d="M278.3 200.8L279.9 197.92L276.7 197.92Z" fill="#2a2a2a"/>
<path d="M273.3 219.6L274.9 216.72L271.7 216.72Z" fill="#2a2a2a"/>
<path d="M274.7 222.1L276.3 219.22L273.1 219.22Z" fill="#2a2a2a"/>
<path d="M277.9 224.1L279.5 221.22L276.3 221.22Z" fill="#2a2a2a"/>
<path d="M276.7 224.9L278.3 222.02L275.1 222.02Z" fill="#2a2a2a"/>
<path d="M266.4 227.5L268 224.62L264.8 224.62Z" fill="#2a2a2a"/>
<path d="M271.4 227.5L273 224.62L269.8 224.62Z" fill="#2a2a2a"/>
<path d="M274.7 236L276.3 233.12L273.1 233.12Z" fill="#2a2a2a"/>
<path d="M279.3 238L280.9 235.12L277.7 235.12Z" fill="#2a2a2a"/>
<path d="M280.3 216.6L281.9 213.72L278.7 213.72Z" fill="#2a2a2a"/>
<path d="M285.4 173.7L287 170.82L283.8 170.82Z" fill="#2a2a2a"/>
<path d="M312.5 181.5L314.1 178.62L310.9 178.62Z" fill="#2a2a2a"/>
<path d="M292.1 197.8L293.7 194.92L290.5 194.92Z" fill="#2a2a2a"/>
<path d="M289.6 200.6L291.2 197.72L288 197.72Z" fill="#2a2a2a"/>
<path d="M302.3 197.8L303.9 194.92L300.7 194.92Z" fill="#2a2a2a"/>
<path d="M282.2 201.2L283.8 198.32L280.6 198.32Z" fill="#2a2a2a"/>
<path d="M282.8 206.3L284.4 203.42L281.2 203.42Z" fill="#2a2a2a"/>
<path d="M285.4 206.3L287 203.42L283.8 203.42Z" fill="#2a2a2a"/>
<path d="M288.5 206.3L290.1 203.42L286.9 203.42Z" fill="#2a2a2a"/>
<path d="M336.6 203.3L338.2 200.42L335 200.42Z" fill="#2a2a2a"/>
<path d="M302.7 209L304.3 206.12L301.1 206.12Z" fill="#2a2a2a"/>
<path d="M305.5 209L307.1 206.12L303.9 206.12Z" fill="#2a2a2a"/>
<path d="M280.1 212.2L281.7 209.32L278.5 209.32Z" fill="#2a2a2a"/>
<path d="M287 212.2L288.6 209.32L285.4 209.32Z" fill="#2a2a2a"/>
<path d="M292.8 211.8L294.4 208.92L291.2 208.92Z" fill="#2a2a2a"/>
<path d="M296.4 211.2L298 208.32L294.8 208.32Z" fill="#2a2a2a"/>
<path d="M298.1 214.3L299.7 211.42L296.5 211.42Z" fill="#2a2a2a"/>
<path d="M299.8 216.9L301.4 214.02L298.2 214.02Z" fill="#2a2a2a"/>
<path d="M282.8 216.9L284.4 214.02L281.2 214.02Z" fill="#2a2a2a"/>
<path d="M285.8 216.9L287.4 214.02L284.2 214.02Z" fill="#2a2a2a"/>
<path d="M288.5 216.9L290.1 214.02L286.9 214.02Z" fill="#2a2a2a"/>
<path d="M280.1 221.8L281.7 218.92L278.5 218.92Z" fill="#2a2a2a"/>
<path d="M286.4 222.4L288 219.52L284.8 219.52Z" fill="#2a2a2a"/>
<path d="M288.5 222.4L290.1 219.52L286.9 219.52Z" fill="#2a2a2a"/>
<path d="M302.3 222.8L303.9 219.92L300.7 219.92Z" fill="#2a2a2a"/>
<path d="M316.7 225.4L318.3 222.52L315.1 222.52Z" fill="#2a2a2a"/>
<path d="M290.7 227.5L292.3 224.62L289.1 224.62Z" fill="#2a2a2a"/>
<path d="M316.7 230.2L318.3 227.32L315.1 227.32Z" fill="#2a2a2a"/>
<path d="M284.3 230.9L285.9 228.02L282.7 228.02Z" fill="#2a2a2a"/>
<path d="M290 230.9L291.6 228.02L288.4 228.02Z" fill="#2a2a2a"/>
<path d="M294.3 230.9L295.9 228.02L292.7 228.02Z" fill="#2a2a2a"/>
<path d="M299.8 230.9L301.4 228.02L298.2 228.02Z" fill="#2a2a2a"/>
<path d="M307 230.9L308.6 228.02L305.4 228.02Z" fill="#2a2a2a"/>
<path d="M288.5 233.8L290.1 230.92L286.9 230.92Z" fill="#2a2a2a"/>
<path d="M291.7 233.8L293.3 230.92L290.1 230.92Z" fill="#2a2a2a"/>
<path d="M287.5 235.5L289.1 232.62L285.9 232.62Z" fill="#2a2a2a"/>
<path d="M283.2 235.5L284.8 232.62L281.6 232.62Z" fill="#2a2a2a"/>
<path d="M293.8 235.5L295.4 232.62L292.2 232.62Z" fill="#2a2a2a"/>
<path d="M297.6 235.5L299.2 232.62L296 232.62Z" fill="#2a2a2a"/>
<path d="M314.6 235.5L316.2 232.62L313 232.62Z" fill="#2a2a2a"/>
<path d="M319.3 235.5L320.9 232.62L317.7 232.62Z" fill="#2a2a2a"/>
<path d="M326 235.5L327.6 232.62L324.4 232.62Z" fill="#2a2a2a"/>
<path d="M327.3 238.7L328.9 235.82L325.7 235.82Z" fill="#2a2a2a"/>
<path d="M280.1 238.7L281.7 235.82L278.5 235.82Z" fill="#2a2a2a"/>
<path d="M336.6 203.6L338.2 200.72L335 200.72Z" fill="#2a2a2a"/>
<rect x="217.9" y="252.3" width="135.4" height="110.3" fill="none" stroke="#555" stroke-width="0.9"/>
<path d="M217.9 265.75h1.2M217.9 279.5h1.8M217.9 293.3h1.2M217.9 307.1h1.8M217.9 321.05h1.2M217.9 335h1.8M217.9 348.65h1.2M233.11 362.6v-1.2M248.33 362.6v-1.8M263.54 362.6v-1.2M278.75 362.6v-1.8M293.96 362.6v-1.2M309.18 362.6v-1.8M324.39 362.6v-1.2M339.6 362.6v-1.8" stroke="#555" stroke-width="0.8" fill="none"/>
<text x="213.4" y="254.8" text-anchor="end" font-size="8.2" textLength="16.8" lengthAdjust="spacingAndGlyphs">2000</text>
<text x="213.4" y="282.3" text-anchor="end" font-size="8.2" textLength="16.8" lengthAdjust="spacingAndGlyphs">1500</text>
<text x="213.4" y="309.9" text-anchor="end" font-size="8.2" textLength="16.8" lengthAdjust="spacingAndGlyphs">1000</text>
<text x="213.4" y="337.8" text-anchor="end" font-size="8.2" textLength="12.6" lengthAdjust="spacingAndGlyphs">500</text>
<text x="213.4" y="365.1" text-anchor="end" font-size="8.2" textLength="4.2" lengthAdjust="spacingAndGlyphs">0</text>
<text transform="translate(192.4 342.9) rotate(-90)" font-size="8" textLength="71.4" lengthAdjust="spacingAndGlyphs">Cars (Vehicles.h<tspan font-size="5.5" dy="-4.4">-1</tspan><tspan dy="4.4">)</tspan></text>
<text x="302.8" y="258.6" font-size="7.2" textLength="50" lengthAdjust="spacingAndGlyphs">y= 1.082x + 36.2</text>
<text x="313.6" y="265.2" font-size="7.2" textLength="29.4" lengthAdjust="spacingAndGlyphs">R<tspan font-size="5" dy="-3">2</tspan><tspan dy="3">= 0.745</tspan></text>
<line x1="229.2" y1="352.4" x2="336.6" y2="267" stroke="#555" stroke-width="0.8"/>
<path d="M277.7 277.3L280.58 275.7L280.58 278.9Z" fill="#2a2a2a"/>
<path d="M273.7 288.6L276.58 287L276.58 290.2Z" fill="#2a2a2a"/>
<path d="M265.8 291.9L268.68 290.3L268.68 293.5Z" fill="#2a2a2a"/>
<path d="M273.7 301L276.58 299.4L276.58 302.6Z" fill="#2a2a2a"/>
<path d="M271.7 307.7L274.58 306.1L274.58 309.3Z" fill="#2a2a2a"/>
<path d="M270.7 309.3L273.58 307.7L273.58 310.9Z" fill="#2a2a2a"/>
<path d="M272.7 309.7L275.58 308.1L275.58 311.3Z" fill="#2a2a2a"/>
<path d="M277.1 311.7L279.98 310.1L279.98 313.3Z" fill="#2a2a2a"/>
<path d="M269.8 314.3L272.68 312.7L272.68 315.9Z" fill="#2a2a2a"/>
<path d="M257.9 318.8L260.78 317.2L260.78 320.4Z" fill="#2a2a2a"/>
<path d="M271.1 326.1L273.98 324.5L273.98 327.7Z" fill="#2a2a2a"/>
<path d="M265.2 333.1L268.08 331.5L268.08 334.7Z" fill="#2a2a2a"/>
<path d="M265.2 350.5L268.08 348.9L268.08 352.1Z" fill="#2a2a2a"/>
<path d="M264.4 354.8L267.28 353.2L267.28 356.4Z" fill="#2a2a2a"/>
<path d="M255.9 356.4L258.78 354.8L258.78 358Z" fill="#2a2a2a"/>
<path d="M232.8 337L235.68 335.4L235.68 338.6Z" fill="#2a2a2a"/>
<path d="M234.2 338L237.08 336.4L237.08 339.6Z" fill="#2a2a2a"/>
<path d="M240.1 340L242.98 338.4L242.98 341.6Z" fill="#2a2a2a"/>
<path d="M228.8 346.9L231.68 345.3L231.68 348.5Z" fill="#2a2a2a"/>
<path d="M234.8 345.9L237.68 344.3L237.68 347.5Z" fill="#2a2a2a"/>
<path d="M226.3 351.8L229.18 350.2L229.18 353.4Z" fill="#2a2a2a"/>
<path d="M232.8 353.2L235.68 351.6L235.68 354.8Z" fill="#2a2a2a"/>
<path d="M236.1 353.2L238.98 351.6L238.98 354.8Z" fill="#2a2a2a"/>
<path d="M228.2 354.4L231.08 352.8L231.08 356Z" fill="#2a2a2a"/>
<path d="M224.9 355.8L227.78 354.2L227.78 357.4Z" fill="#2a2a2a"/>
<path d="M225.7 357.8L228.58 356.2L228.58 359.4Z" fill="#2a2a2a"/>
<path d="M227.6 358.4L230.48 356.8L230.48 360Z" fill="#2a2a2a"/>
<path d="M229.2 358.8L232.08 357.2L232.08 360.4Z" fill="#2a2a2a"/>
<path d="M224.9 359.2L227.78 357.6L227.78 360.8Z" fill="#2a2a2a"/>
<path d="M226.8 359.7L229.68 358.1L229.68 361.3Z" fill="#2a2a2a"/>
<path d="M276.3 305L279.18 303.4L279.18 306.6Z" fill="#2a2a2a"/>
<path d="M278.5 277.1L281.38 275.5L281.38 278.7Z" fill="#2a2a2a"/>
<path d="M289.7 277.1L292.58 275.5L292.58 278.7Z" fill="#2a2a2a"/>
<path d="M292.7 278.6L295.58 277L295.58 280.2Z" fill="#2a2a2a"/>
<path d="M286.9 282.8L289.78 281.2L289.78 284.4Z" fill="#2a2a2a"/>
<path d="M301.1 284.3L303.98 282.7L303.98 285.9Z" fill="#2a2a2a"/>
<path d="M310.9 282.8L313.78 281.2L313.78 284.4Z" fill="#2a2a2a"/>
<path d="M318.1 281.8L320.98 280.2L320.98 283.4Z" fill="#2a2a2a"/>
<path d="M325.1 275.4L327.98 273.8L327.98 277Z" fill="#2a2a2a"/>
<path d="M335.7 290.3L338.58 288.7L338.58 291.9Z" fill="#2a2a2a"/>
<path d="M315.5 289.8L318.38 288.2L318.38 291.4Z" fill="#2a2a2a"/>
<path d="M316 292.8L318.88 291.2L318.88 294.4Z" fill="#2a2a2a"/>
<path d="M285.5 288.1L288.38 286.5L288.38 289.7Z" fill="#2a2a2a"/>
<path d="M288.4 287.7L291.28 286.1L291.28 289.3Z" fill="#2a2a2a"/>
<path d="M291.2 288.1L294.08 286.5L294.08 289.7Z" fill="#2a2a2a"/>
<path d="M289.7 291.3L292.58 289.7L292.58 292.9Z" fill="#2a2a2a"/>
<path d="M296 288.6L298.88 287L298.88 290.2Z" fill="#2a2a2a"/>
<path d="M298.2 290.7L301.08 289.1L301.08 292.3Z" fill="#2a2a2a"/>
<path d="M304.5 290.7L307.38 289.1L307.38 292.3Z" fill="#2a2a2a"/>
<path d="M280.6 295.6L283.48 294L283.48 297.2Z" fill="#2a2a2a"/>
<path d="M283.8 295.6L286.68 294L286.68 297.2Z" fill="#2a2a2a"/>
<path d="M286.3 294.9L289.18 293.3L289.18 296.5Z" fill="#2a2a2a"/>
<path d="M288.4 294.9L291.28 293.3L291.28 296.5Z" fill="#2a2a2a"/>
<path d="M298.6 294.9L301.48 293.3L301.48 296.5Z" fill="#2a2a2a"/>
<path d="M300.3 296.2L303.18 294.6L303.18 297.8Z" fill="#2a2a2a"/>
<path d="M278.5 299.2L281.38 297.6L281.38 300.8Z" fill="#2a2a2a"/>
<path d="M281.2 299.8L284.08 298.2L284.08 301.4Z" fill="#2a2a2a"/>
<path d="M282.7 300.8L285.58 299.2L285.58 302.4Z" fill="#2a2a2a"/>
<path d="M284.8 300.8L287.68 299.2L287.68 302.4Z" fill="#2a2a2a"/>
<path d="M285.9 302.5L288.78 300.9L288.78 304.1Z" fill="#2a2a2a"/>
<path d="M287.6 303L290.48 301.4L290.48 304.6Z" fill="#2a2a2a"/>
<path d="M290.1 300.4L292.98 298.8L292.98 302Z" fill="#2a2a2a"/>
<path d="M295.4 301.9L298.28 300.3L298.28 303.5Z" fill="#2a2a2a"/>
<path d="M325.7 300.4L328.58 298.8L328.58 302Z" fill="#2a2a2a"/>
<path d="M278.5 304.7L281.38 303.1L281.38 306.3Z" fill="#2a2a2a"/>
<path d="M286.9 306.8L289.78 305.2L289.78 308.4Z" fill="#2a2a2a"/>
<path d="M301.1 306.8L303.98 305.2L303.98 308.4Z" fill="#2a2a2a"/>
<path d="M304.5 306.8L307.38 305.2L307.38 308.4Z" fill="#2a2a2a"/>
<path d="M305.4 311.4L308.28 309.8L308.28 313Z" fill="#2a2a2a"/>
<path d="M281.2 313.1L284.08 311.5L284.08 314.7Z" fill="#2a2a2a"/>
<path d="M284.8 316.1L287.68 314.5L287.68 317.7Z" fill="#2a2a2a"/>
<path d="M289.1 315.3L291.98 313.7L291.98 316.9Z" fill="#2a2a2a"/>
<path d="M313 317.4L315.88 315.8L315.88 319Z" fill="#2a2a2a"/>
<path d="M290.5 323.1L293.38 321.5L293.38 324.7Z" fill="#2a2a2a"/>
<path d="M282.7 343.2L285.58 341.6L285.58 344.8Z" fill="#2a2a2a"/>
<path d="M281 314.3L283.88 312.7L283.88 315.9Z" fill="#2a2a2a"/>
<path d="M281.6 303L284.48 301.4L284.48 304.6Z" fill="#2a2a2a"/>
<rect x="217.4" y="375.5" width="135.9" height="108.7" fill="none" stroke="#555" stroke-width="0.9"/>
<path d="M217.4 389.15h1.2M217.4 402.9h1.8M217.4 416.45h1.2M217.4 430h1.8M217.4 443.6h1.2M217.4 457.2h1.8M217.4 470.75h1.2M232.56 484.2v-1.2M247.72 484.2v-1.8M262.89 484.2v-1.2M278.05 484.2v-1.8M293.21 484.2v-1.2M308.38 484.2v-1.8M323.54 484.2v-1.2M338.7 484.2v-1.8" stroke="#555" stroke-width="0.8" fill="none"/>
<text x="212.9" y="378.2" text-anchor="end" font-size="8.2" textLength="12.6" lengthAdjust="spacingAndGlyphs">200</text>
<text x="212.9" y="405.7" text-anchor="end" font-size="8.2" textLength="12.6" lengthAdjust="spacingAndGlyphs">150</text>
<text x="212.9" y="432.8" text-anchor="end" font-size="8.2" textLength="12.6" lengthAdjust="spacingAndGlyphs">100</text>
<text x="212.9" y="460" text-anchor="end" font-size="8.2" textLength="8.4" lengthAdjust="spacingAndGlyphs">50</text>
<text x="212.9" y="487.1" text-anchor="end" font-size="8.2" textLength="4.2" lengthAdjust="spacingAndGlyphs">0</text>
<text transform="translate(196 467.9) rotate(-90)" font-size="8" textLength="77.6" lengthAdjust="spacingAndGlyphs">MDBs (Vehicles.h<tspan font-size="5.5" dy="-4.4">-1</tspan><tspan dy="4.4">)</tspan></text>
<text x="299" y="384.1" font-size="7.2" textLength="49.8" lengthAdjust="spacingAndGlyphs">y= 0.079x + 12.6</text>
<text x="310.5" y="392.6" font-size="7.2" textLength="29.9" lengthAdjust="spacingAndGlyphs">R<tspan font-size="5" dy="-3">2</tspan><tspan dy="3">= 0.612</tspan></text>
<line x1="229.8" y1="468.8" x2="336.6" y2="409.3" stroke="#555" stroke-width="0.8"/>
<circle cx="267.4" cy="415.5" r="1.2" fill="none" stroke="#2a2a2a" stroke-width="0.72"/>
<circle cx="279.9" cy="413.5" r="1.2" fill="none" stroke="#2a2a2a" stroke-width="0.72"/>
<circle cx="282.2" cy="412.5" r="1.2" fill="none" stroke="#2a2a2a" stroke-width="0.72"/>
<circle cx="280.3" cy="425.4" r="1.2" fill="none" stroke="#2a2a2a" stroke-width="0.72"/>
<circle cx="279.3" cy="427.4" r="1.2" fill="none" stroke="#2a2a2a" stroke-width="0.72"/>
<circle cx="274.7" cy="432.3" r="1.2" fill="none" stroke="#2a2a2a" stroke-width="0.72"/>
<circle cx="278.3" cy="433.3" r="1.2" fill="none" stroke="#2a2a2a" stroke-width="0.72"/>
<circle cx="274.3" cy="435.9" r="1.2" fill="none" stroke="#2a2a2a" stroke-width="0.72"/>
<circle cx="274.7" cy="439.8" r="1.2" fill="none" stroke="#2a2a2a" stroke-width="0.72"/>
<circle cx="266.4" cy="440.2" r="1.2" fill="none" stroke="#2a2a2a" stroke-width="0.72"/>
<circle cx="272.7" cy="449.7" r="1.2" fill="none" stroke="#2a2a2a" stroke-width="0.72"/>
<circle cx="270.8" cy="456.1" r="1.2" fill="none" stroke="#2a2a2a" stroke-width="0.72"/>
<circle cx="272" cy="459" r="1.2" fill="none" stroke="#2a2a2a" stroke-width="0.72"/>
<circle cx="276.7" cy="457.6" r="1.2" fill="none" stroke="#2a2a2a" stroke-width="0.72"/>
<circle cx="278.3" cy="458.4" r="1.2" fill="none" stroke="#2a2a2a" stroke-width="0.72"/>
<circle cx="265.4" cy="461" r="1.2" fill="none" stroke="#2a2a2a" stroke-width="0.72"/>
<circle cx="266.8" cy="464.4" r="1.2" fill="none" stroke="#2a2a2a" stroke-width="0.72"/>
<circle cx="272.3" cy="465.5" r="1.2" fill="none" stroke="#2a2a2a" stroke-width="0.72"/>
<circle cx="258.5" cy="466.3" r="1.2" fill="none" stroke="#2a2a2a" stroke-width="0.72"/>
<circle cx="256.9" cy="472.3" r="1.2" fill="none" stroke="#2a2a2a" stroke-width="0.72"/>
<circle cx="237.1" cy="457" r="1.2" fill="none" stroke="#2a2a2a" stroke-width="0.72"/>
<circle cx="228.4" cy="465.5" r="1.2" fill="none" stroke="#2a2a2a" stroke-width="0.72"/>
<circle cx="229.2" cy="466.3" r="1.2" fill="none" stroke="#2a2a2a" stroke-width="0.72"/>
<circle cx="234.4" cy="467.5" r="1.2" fill="none" stroke="#2a2a2a" stroke-width="0.72"/>
<circle cx="233.8" cy="469.5" r="1.2" fill="none" stroke="#2a2a2a" stroke-width="0.72"/>
<circle cx="225.9" cy="470.3" r="1.2" fill="none" stroke="#2a2a2a" stroke-width="0.72"/>
<circle cx="227.9" cy="470.9" r="1.2" fill="none" stroke="#2a2a2a" stroke-width="0.72"/>
<circle cx="240.7" cy="471.9" r="1.2" fill="none" stroke="#2a2a2a" stroke-width="0.72"/>
<circle cx="224.9" cy="474.2" r="1.2" fill="none" stroke="#2a2a2a" stroke-width="0.72"/>
<circle cx="227.3" cy="473.9" r="1.2" fill="none" stroke="#2a2a2a" stroke-width="0.72"/>
<circle cx="229.8" cy="473.5" r="1.2" fill="none" stroke="#2a2a2a" stroke-width="0.72"/>
<circle cx="225.9" cy="476.2" r="1.2" fill="none" stroke="#2a2a2a" stroke-width="0.72"/>
<circle cx="234.8" cy="474.8" r="1.2" fill="none" stroke="#2a2a2a" stroke-width="0.72"/>
<circle cx="233.2" cy="476.8" r="1.2" fill="none" stroke="#2a2a2a" stroke-width="0.72"/>
<circle cx="225.9" cy="478.2" r="1.2" fill="none" stroke="#2a2a2a" stroke-width="0.72"/>
<circle cx="229.2" cy="482.7" r="1.2" fill="none" stroke="#2a2a2a" stroke-width="0.72"/>
<circle cx="299.8" cy="408" r="1.2" fill="none" stroke="#2a2a2a" stroke-width="0.72"/>
<circle cx="336.6" cy="408" r="1.2" fill="none" stroke="#2a2a2a" stroke-width="0.72"/>
<circle cx="287.5" cy="409.4" r="1.2" fill="none" stroke="#2a2a2a" stroke-width="0.72"/>
<circle cx="282.2" cy="412.2" r="1.2" fill="none" stroke="#2a2a2a" stroke-width="0.72"/>
<circle cx="284.9" cy="412.8" r="1.2" fill="none" stroke="#2a2a2a" stroke-width="0.72"/>
<circle cx="288.5" cy="412.2" r="1.2" fill="none" stroke="#2a2a2a" stroke-width="0.72"/>
<circle cx="289.6" cy="413.7" r="1.2" fill="none" stroke="#2a2a2a" stroke-width="0.72"/>
<circle cx="294.3" cy="413.3" r="1.2" fill="none" stroke="#2a2a2a" stroke-width="0.72"/>
<circle cx="286.4" cy="415" r="1.2" fill="none" stroke="#2a2a2a" stroke-width="0.72"/>
<circle cx="316.7" cy="420" r="1.2" fill="none" stroke="#2a2a2a" stroke-width="0.72"/>
<circle cx="288.5" cy="421.3" r="1.2" fill="none" stroke="#2a2a2a" stroke-width="0.72"/>
<circle cx="292.1" cy="423.4" r="1.2" fill="none" stroke="#2a2a2a" stroke-width="0.72"/>
<circle cx="297" cy="423.4" r="1.2" fill="none" stroke="#2a2a2a" stroke-width="0.72"/>
<circle cx="305.5" cy="423.8" r="1.2" fill="none" stroke="#2a2a2a" stroke-width="0.72"/>
<circle cx="280.1" cy="425.5" r="1.2" fill="none" stroke="#2a2a2a" stroke-width="0.72"/>
<circle cx="289.2" cy="426" r="1.2" fill="none" stroke="#2a2a2a" stroke-width="0.72"/>
<circle cx="326.7" cy="428.5" r="1.2" fill="none" stroke="#2a2a2a" stroke-width="0.72"/>
<circle cx="312.5" cy="429.1" r="1.2" fill="none" stroke="#2a2a2a" stroke-width="0.72"/>
<circle cx="317.1" cy="431.3" r="1.2" fill="none" stroke="#2a2a2a" stroke-width="0.72"/>
<circle cx="319.3" cy="431.3" r="1.2" fill="none" stroke="#2a2a2a" stroke-width="0.72"/>
<circle cx="299.1" cy="429.8" r="1.2" fill="none" stroke="#2a2a2a" stroke-width="0.72"/>
<circle cx="301.9" cy="428.5" r="1.2" fill="none" stroke="#2a2a2a" stroke-width="0.72"/>
<circle cx="285.4" cy="429.1" r="1.2" fill="none" stroke="#2a2a2a" stroke-width="0.72"/>
<circle cx="292.1" cy="429.1" r="1.2" fill="none" stroke="#2a2a2a" stroke-width="0.72"/>
<circle cx="288.5" cy="431.9" r="1.2" fill="none" stroke="#2a2a2a" stroke-width="0.72"/>
<circle cx="326.7" cy="436.1" r="1.2" fill="none" stroke="#2a2a2a" stroke-width="0.72"/>
<circle cx="306.5" cy="436.1" r="1.2" fill="none" stroke="#2a2a2a" stroke-width="0.72"/>
<circle cx="296.4" cy="437" r="1.2" fill="none" stroke="#2a2a2a" stroke-width="0.72"/>
<circle cx="291.3" cy="437" r="1.2" fill="none" stroke="#2a2a2a" stroke-width="0.72"/>
<circle cx="283.2" cy="439.7" r="1.2" fill="none" stroke="#2a2a2a" stroke-width="0.72"/>
<circle cx="287.9" cy="440.4" r="1.2" fill="none" stroke="#2a2a2a" stroke-width="0.72"/>
<circle cx="298.5" cy="439.7" r="1.2" fill="none" stroke="#2a2a2a" stroke-width="0.72"/>
<circle cx="301.9" cy="440.4" r="1.2" fill="none" stroke="#2a2a2a" stroke-width="0.72"/>
<circle cx="305.5" cy="441.9" r="1.2" fill="none" stroke="#2a2a2a" stroke-width="0.72"/>
<circle cx="314.6" cy="441.9" r="1.2" fill="none" stroke="#2a2a2a" stroke-width="0.72"/>
<circle cx="281.5" cy="444.6" r="1.2" fill="none" stroke="#2a2a2a" stroke-width="0.72"/>
<circle cx="286.4" cy="445" r="1.2" fill="none" stroke="#2a2a2a" stroke-width="0.72"/>
<circle cx="290" cy="444.6" r="1.2" fill="none" stroke="#2a2a2a" stroke-width="0.72"/>
<circle cx="291.7" cy="446.1" r="1.2" fill="none" stroke="#2a2a2a" stroke-width="0.72"/>
<circle cx="302.3" cy="451" r="1.2" fill="none" stroke="#2a2a2a" stroke-width="0.72"/>
<circle cx="287.5" cy="458.2" r="1.2" fill="none" stroke="#2a2a2a" stroke-width="0.72"/>
<circle cx="285.4" cy="467.3" r="1.2" fill="none" stroke="#2a2a2a" stroke-width="0.72"/>
<circle cx="284.6" cy="466.9" r="1.2" fill="none" stroke="#2a2a2a" stroke-width="0.72"/>
<rect x="216.9" y="502.1" width="136.4" height="104.5" fill="none" stroke="#555" stroke-width="0.9"/>
<path d="M216.9 511.75h1.2M216.9 522.4h1.8M216.9 532.95h1.2M216.9 543.5h1.8M216.9 554.05h1.2M216.9 564.6h1.8M216.9 575.15h1.2M216.9 585.7h1.8M216.9 596h1.2M232.16 606.6v-1.2M247.43 606.6v-1.8M262.69 606.6v-1.2M277.95 606.6v-1.8M293.21 606.6v-1.2M308.48 606.6v-1.8M323.74 606.6v-1.2M339 606.6v-1.8" stroke="#555" stroke-width="0.8" fill="none"/>
<text x="212.4" y="503.9" text-anchor="end" font-size="8.2" textLength="12.6" lengthAdjust="spacingAndGlyphs">100</text>
<text x="212.4" y="525.2" text-anchor="end" font-size="8.2" textLength="8.4" lengthAdjust="spacingAndGlyphs">80</text>
<text x="212.4" y="546.3" text-anchor="end" font-size="8.2" textLength="8.4" lengthAdjust="spacingAndGlyphs">60</text>
<text x="212.4" y="567.4" text-anchor="end" font-size="8.2" textLength="8.4" lengthAdjust="spacingAndGlyphs">40</text>
<text x="212.4" y="588.5" text-anchor="end" font-size="8.2" textLength="8.4" lengthAdjust="spacingAndGlyphs">20</text>
<text x="212.4" y="609.1" text-anchor="end" font-size="8.2" textLength="4.2" lengthAdjust="spacingAndGlyphs">0</text>
<text x="216.9" y="617.3" text-anchor="middle" font-size="8.2" textLength="4.2" lengthAdjust="spacingAndGlyphs">0</text>
<text x="247.43" y="617.3" text-anchor="middle" font-size="8.2" textLength="12.6" lengthAdjust="spacingAndGlyphs">400</text>
<text x="277.95" y="617.3" text-anchor="middle" font-size="8.2" textLength="12.6" lengthAdjust="spacingAndGlyphs">800</text>
<text x="308.48" y="617.3" text-anchor="middle" font-size="8.2" textLength="16.8" lengthAdjust="spacingAndGlyphs">1200</text>
<text x="339" y="617.3" text-anchor="middle" font-size="8.2" textLength="16.8" lengthAdjust="spacingAndGlyphs">1600</text>
<text transform="translate(195.3 604.7) rotate(-90)" font-size="8" textLength="96.2" lengthAdjust="spacingAndGlyphs">Motorcycles (Vehicles.h<tspan font-size="5.5" dy="-4.4">-1</tspan><tspan dy="4.4">)</tspan></text>
<text x="299" y="510.1" font-size="7.2" textLength="51.8" lengthAdjust="spacingAndGlyphs">y= -0.042x + 49.6</text>
<text x="307.4" y="519.1" font-size="7.2" textLength="30" lengthAdjust="spacingAndGlyphs">R<tspan font-size="5" dy="-3">2</tspan><tspan dy="3">= 0.600</tspan></text>
<line x1="223.9" y1="559" x2="300" y2="602.5" stroke="#555" stroke-width="0.8"/>
<path d="M228.4 509.9L230 507.02L226.8 507.02Z" fill="none" stroke="#2a2a2a" stroke-width="0.72"/>
<path d="M224.9 525.7L226.5 522.82L223.3 522.82Z" fill="none" stroke="#2a2a2a" stroke-width="0.72"/>
<path d="M227.3 534.2L228.9 531.32L225.7 531.32Z" fill="none" stroke="#2a2a2a" stroke-width="0.72"/>
<path d="M225.3 539.2L226.9 536.32L223.7 536.32Z" fill="none" stroke="#2a2a2a" stroke-width="0.72"/>
<path d="M224.5 542.7L226.1 539.82L222.9 539.82Z" fill="none" stroke="#2a2a2a" stroke-width="0.72"/>
<path d="M225.3 543.5L226.9 540.62L223.7 540.62Z" fill="none" stroke="#2a2a2a" stroke-width="0.72"/>
<path d="M224.9 546.7L226.5 543.82L223.3 543.82Z" fill="none" stroke="#2a2a2a" stroke-width="0.72"/>
<path d="M227.9 551.4L229.5 548.52L226.3 548.52Z" fill="none" stroke="#2a2a2a" stroke-width="0.72"/>
<path d="M229.8 556L231.4 553.12L228.2 553.12Z" fill="none" stroke="#2a2a2a" stroke-width="0.72"/>
<path d="M228.4 561.3L230 558.42L226.8 558.42Z" fill="none" stroke="#2a2a2a" stroke-width="0.72"/>
<path d="M225.9 563.9L227.5 561.02L224.3 561.02Z" fill="none" stroke="#2a2a2a" stroke-width="0.72"/>
<path d="M224.9 566.5L226.5 563.62L223.3 563.62Z" fill="none" stroke="#2a2a2a" stroke-width="0.72"/>
<path d="M228.4 569.8L230 566.92L226.8 566.92Z" fill="none" stroke="#2a2a2a" stroke-width="0.72"/>
<path d="M235.8 564.5L237.4 561.62L234.2 561.62Z" fill="none" stroke="#2a2a2a" stroke-width="0.72"/>
<path d="M234.4 576.3L236 573.42L232.8 573.42Z" fill="none" stroke="#2a2a2a" stroke-width="0.72"/>
<path d="M232.4 582.3L234 579.42L230.8 579.42Z" fill="none" stroke="#2a2a2a" stroke-width="0.72"/>
<path d="M233.8 587L235.4 584.12L232.2 584.12Z" fill="none" stroke="#2a2a2a" stroke-width="0.72"/>
<path d="M240.3 592.2L241.9 589.32L238.7 589.32Z" fill="none" stroke="#2a2a2a" stroke-width="0.72"/>
<path d="M232.4 596.1L234 593.22L230.8 593.22Z" fill="none" stroke="#2a2a2a" stroke-width="0.72"/>
<path d="M228.4 604.8L230 601.92L226.8 601.92Z" fill="none" stroke="#2a2a2a" stroke-width="0.72"/>
<path d="M256.1 579.7L257.7 576.82L254.5 576.82Z" fill="none" stroke="#2a2a2a" stroke-width="0.72"/>
<path d="M264.8 577.1L266.4 574.22L263.2 574.22Z" fill="none" stroke="#2a2a2a" stroke-width="0.72"/>
<path d="M266 578.3L267.6 575.42L264.4 575.42Z" fill="none" stroke="#2a2a2a" stroke-width="0.72"/>
<path d="M257.5 593L259.1 590.12L255.9 590.12Z" fill="none" stroke="#2a2a2a" stroke-width="0.72"/>
<path d="M271.4 594.1L273 591.22L269.8 591.22Z" fill="none" stroke="#2a2a2a" stroke-width="0.72"/>
<path d="M272.3 596.1L273.9 593.22L270.7 593.22Z" fill="none" stroke="#2a2a2a" stroke-width="0.72"/>
<path d="M274.3 596.5L275.9 593.62L272.7 593.62Z" fill="none" stroke="#2a2a2a" stroke-width="0.72"/>
<path d="M272.7 598.9L274.3 596.02L271.1 596.02Z" fill="none" stroke="#2a2a2a" stroke-width="0.72"/>
<path d="M274.3 598.9L275.9 596.02L272.7 596.02Z" fill="none" stroke="#2a2a2a" stroke-width="0.72"/>
<path d="M272 600.5L273.6 597.62L270.4 597.62Z" fill="none" stroke="#2a2a2a" stroke-width="0.72"/>
<path d="M265.4 603.4L267 600.52L263.8 600.52Z" fill="none" stroke="#2a2a2a" stroke-width="0.72"/>
<path d="M266.8 605.4L268.4 602.52L265.2 602.52Z" fill="none" stroke="#2a2a2a" stroke-width="0.72"/>
<path d="M274.3 605.4L275.9 602.52L272.7 602.52Z" fill="none" stroke="#2a2a2a" stroke-width="0.72"/>
<path d="M277.9 602.1L279.5 599.22L276.3 599.22Z" fill="none" stroke="#2a2a2a" stroke-width="0.72"/>
<path d="M278.7 604.4L280.3 601.52L277.1 601.52Z" fill="none" stroke="#2a2a2a" stroke-width="0.72"/>
<path d="M280.3 605.4L281.9 602.52L278.7 602.52Z" fill="none" stroke="#2a2a2a" stroke-width="0.72"/>
<path d="M284.9 589.9L286.5 587.02L283.3 587.02Z" fill="none" stroke="#2a2a2a" stroke-width="0.72"/>
<path d="M287.7 595L289.3 592.12L286.1 592.12Z" fill="none" stroke="#2a2a2a" stroke-width="0.72"/>
<path d="M280.7 594.6L282.3 591.72L279.1 591.72Z" fill="none" stroke="#2a2a2a" stroke-width="0.72"/>
<path d="M282.2 596.7L283.8 593.82L280.6 593.82Z" fill="none" stroke="#2a2a2a" stroke-width="0.72"/>
<path d="M287.9 598.4L289.5 595.52L286.3 595.52Z" fill="none" stroke="#2a2a2a" stroke-width="0.72"/>
<path d="M290.7 599.2L292.3 596.32L289.1 596.32Z" fill="none" stroke="#2a2a2a" stroke-width="0.72"/>
<path d="M293.8 599.2L295.4 596.32L292.2 596.32Z" fill="none" stroke="#2a2a2a" stroke-width="0.72"/>
<path d="M296 600.5L297.6 597.62L294.4 597.62Z" fill="none" stroke="#2a2a2a" stroke-width="0.72"/>
<path d="M299.1 599.2L300.7 596.32L297.5 596.32Z" fill="none" stroke="#2a2a2a" stroke-width="0.72"/>
<path d="M301.9 599.2L303.5 596.32L300.3 596.32Z" fill="none" stroke="#2a2a2a" stroke-width="0.72"/>
<path d="M306.5 599.9L308.1 597.02L304.9 597.02Z" fill="none" stroke="#2a2a2a" stroke-width="0.72"/>
<path d="M313.3 595.6L314.9 592.72L311.7 592.72Z" fill="none" stroke="#2a2a2a" stroke-width="0.72"/>
<path d="M315.4 598.4L317 595.52L313.8 595.52Z" fill="none" stroke="#2a2a2a" stroke-width="0.72"/>
<path d="M311.8 601.3L313.4 598.42L310.2 598.42Z" fill="none" stroke="#2a2a2a" stroke-width="0.72"/>
<path d="M317.1 603.5L318.7 600.62L315.5 600.62Z" fill="none" stroke="#2a2a2a" stroke-width="0.72"/>
<path d="M319.7 603.5L321.3 600.62L318.1 600.62Z" fill="none" stroke="#2a2a2a" stroke-width="0.72"/>
<path d="M326.7 598.4L328.3 595.52L325.1 595.52Z" fill="none" stroke="#2a2a2a" stroke-width="0.72"/>
<path d="M326 602.6L327.6 599.72L324.4 599.72Z" fill="none" stroke="#2a2a2a" stroke-width="0.72"/>
<path d="M336.6 602.6L338.2 599.72L335 599.72Z" fill="none" stroke="#2a2a2a" stroke-width="0.72"/>
<path d="M284.3 602L285.9 599.12L282.7 599.12Z" fill="none" stroke="#2a2a2a" stroke-width="0.72"/>
<path d="M286.4 603L288 600.12L284.8 600.12Z" fill="none" stroke="#2a2a2a" stroke-width="0.72"/>
<path d="M289.6 603L291.2 600.12L288 600.12Z" fill="none" stroke="#2a2a2a" stroke-width="0.72"/>
<path d="M292.1 601.3L293.7 598.42L290.5 598.42Z" fill="none" stroke="#2a2a2a" stroke-width="0.72"/>
<path d="M282.2 605.2L283.8 602.32L280.6 602.32Z" fill="none" stroke="#2a2a2a" stroke-width="0.72"/>
<path d="M285.4 605.6L287 602.72L283.8 602.72Z" fill="none" stroke="#2a2a2a" stroke-width="0.72"/>
<path d="M288.5 605.2L290.1 602.32L286.9 602.32Z" fill="none" stroke="#2a2a2a" stroke-width="0.72"/>
<path d="M291.7 604.7L293.3 601.82L290.1 601.82Z" fill="none" stroke="#2a2a2a" stroke-width="0.72"/>
<path d="M296.4 605.2L298 602.32L294.8 602.32Z" fill="none" stroke="#2a2a2a" stroke-width="0.72"/>
<path d="M299.1 604.7L300.7 601.82L297.5 601.82Z" fill="none" stroke="#2a2a2a" stroke-width="0.72"/>
<path d="M301.2 606.2L302.8 603.32L299.6 603.32Z" fill="none" stroke="#2a2a2a" stroke-width="0.72"/>
<path d="M304.8 604.7L306.4 601.82L303.2 601.82Z" fill="none" stroke="#2a2a2a" stroke-width="0.72"/>
<path d="M306.1 606.2L307.7 603.32L304.5 603.32Z" fill="none" stroke="#2a2a2a" stroke-width="0.72"/>
<path d="M274.2 595.7L275.8 592.82L272.6 592.82Z" fill="none" stroke="#2a2a2a" stroke-width="0.72"/>
<path d="M277.1 601.4L278.7 598.52L275.5 598.52Z" fill="none" stroke="#2a2a2a" stroke-width="0.72"/>
<path d="M274.2 605.6L275.8 602.72L272.6 602.72Z" fill="none" stroke="#2a2a2a" stroke-width="0.72"/>
<path d="M278.5 604.2L280.1 601.32L276.9 601.32Z" fill="none" stroke="#2a2a2a" stroke-width="0.72"/>
<path d="M287 606.3L288.6 603.42L285.4 603.42Z" fill="none" stroke="#2a2a2a" stroke-width="0.72"/>
<path d="M289.8 606.3L291.4 603.42L288.2 603.42Z" fill="none" stroke="#2a2a2a" stroke-width="0.72"/>
<path d="M284.1 607L285.7 604.12L282.5 604.12Z" fill="none" stroke="#2a2a2a" stroke-width="0.72"/>
<text x="56.8" y="734.2" font-size="7.8" textLength="94.5" lengthAdjust="spacingAndGlyphs">NH<tspan font-size="5" dy="1.6">3</tspan><tspan dy="-1.6"> concentration (ppbv)</tspan></text>
<text x="240.4" y="624.8" font-size="7.8" textLength="94.5" lengthAdjust="spacingAndGlyphs">NH<tspan font-size="5" dy="1.6">3</tspan><tspan dy="-1.6"> concentration (ppbv)</tspan></text>
</g>
</svg>
</body></html>
